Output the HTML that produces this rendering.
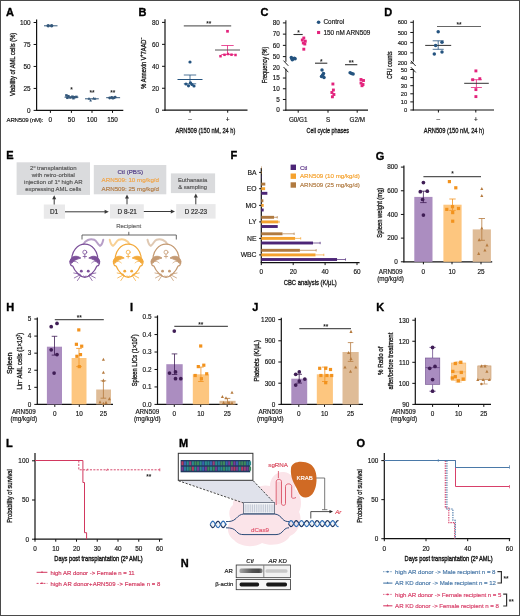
<!DOCTYPE html>
<html><head><meta charset="utf-8"><style>
html,body{margin:0;padding:0;background:#fff;}
body{width:520px;height:616px;overflow:hidden;}
svg{display:block;font-family:"Liberation Sans", sans-serif;will-change:transform;}
</style></head><body>
<svg width="520" height="616" viewBox="0 0 520 616">
<rect x="0" y="0" width="520" height="616" fill="#fff"/>
<text x="6" y="16.4" font-size="11.0" text-anchor="start" fill="#000" font-weight="bold" stroke="#000" stroke-width="0.35">A</text>
<line x1="36.6" y1="19.5" x2="36.6" y2="110.95" stroke="#111111" stroke-width="1.2" />
<line x1="33.6" y1="110.4" x2="36.6" y2="110.4" stroke="#111111" stroke-width="1.0" />
<text x="30.6" y="112.7" font-size="6.4" text-anchor="end" fill="#161616" stroke="#161616" stroke-width="0.16">0</text>
<line x1="33.6" y1="88.43" x2="36.6" y2="88.43" stroke="#111111" stroke-width="1.0" />
<text x="30.6" y="90.73" font-size="6.4" text-anchor="end" fill="#161616" stroke="#161616" stroke-width="0.16">25</text>
<line x1="33.6" y1="66.45" x2="36.6" y2="66.45" stroke="#111111" stroke-width="1.0" />
<text x="30.6" y="68.75" font-size="6.4" text-anchor="end" fill="#161616" stroke="#161616" stroke-width="0.16">50</text>
<line x1="33.6" y1="44.48" x2="36.6" y2="44.48" stroke="#111111" stroke-width="1.0" />
<text x="30.6" y="46.78" font-size="6.4" text-anchor="end" fill="#161616" stroke="#161616" stroke-width="0.16">75</text>
<line x1="33.6" y1="22.5" x2="36.6" y2="22.5" stroke="#111111" stroke-width="1.0" />
<text x="30.6" y="24.8" font-size="6.4" text-anchor="end" fill="#161616" stroke="#161616" stroke-width="0.16">100</text>
<line x1="36.05" y1="110.4" x2="123.3" y2="110.4" stroke="#111111" stroke-width="1.2" />
<line x1="50.4" y1="110.4" x2="50.4" y2="112.9" stroke="#111111" stroke-width="1.0" />
<line x1="71.4" y1="110.4" x2="71.4" y2="112.9" stroke="#111111" stroke-width="1.0" />
<line x1="92" y1="110.4" x2="92" y2="112.9" stroke="#111111" stroke-width="1.0" />
<line x1="112.5" y1="110.4" x2="112.5" y2="112.9" stroke="#111111" stroke-width="1.0" />
<text x="6.5" y="121.8" font-size="6.1" text-anchor="start" fill="#161616" stroke="#161616" stroke-width="0.16" textLength="36.8">ARN509 (nM):</text>
<text x="50.4" y="121.8" font-size="6.4" text-anchor="middle" fill="#161616" stroke="#161616" stroke-width="0.16">0</text>
<text x="71.4" y="121.8" font-size="6.4" text-anchor="middle" fill="#161616" stroke="#161616" stroke-width="0.16">50</text>
<text x="92" y="121.8" font-size="6.4" text-anchor="middle" fill="#161616" stroke="#161616" stroke-width="0.16">100</text>
<text x="112.5" y="121.8" font-size="6.4" text-anchor="middle" fill="#161616" stroke="#161616" stroke-width="0.16">150</text>
<text x="14.8" y="64.4" font-size="7.8" text-anchor="middle" fill="#161616" font-weight="normal" transform="rotate(-90 14.8 64.4)" textLength="63.3" lengthAdjust="spacingAndGlyphs" stroke="#161616" stroke-width="0.32">Viability of AML cells (%)</text>
<line x1="44" y1="25.8" x2="57.5" y2="25.8" stroke="#33577a" stroke-width="1.0" />
<circle cx="48.2" cy="25.8" r="1.75" fill="#33577a" />
<circle cx="51.6" cy="25.8" r="1.75" fill="#33577a" />
<line x1="64.5" y1="97.2" x2="78.4" y2="97.2" stroke="#33577a" stroke-width="1.0" />
<rect x="65.15" y="94.15" width="2.5" height="2.5" fill="#33577a" />
<rect x="67.15" y="94.95" width="2.5" height="2.5" fill="#33577a" />
<rect x="69.15" y="96.25" width="2.5" height="2.5" fill="#33577a" />
<rect x="71.15" y="95.45" width="2.5" height="2.5" fill="#33577a" />
<rect x="73.15" y="95.95" width="2.5" height="2.5" fill="#33577a" />
<rect x="75.15" y="95.65" width="2.5" height="2.5" fill="#33577a" />
<rect x="66.15" y="96.55" width="2.5" height="2.5" fill="#33577a" />
<rect x="72.15" y="96.95" width="2.5" height="2.5" fill="#33577a" />
<line x1="85" y1="98.8" x2="98.8" y2="98.8" stroke="#33577a" stroke-width="1.0" />
<path d="M90.6 98.69L91.95 101.42L89.25 101.42Z" fill="#33577a"/>
<path d="M89 96.98L90.35 99.72L87.65 99.72Z" fill="#33577a"/>
<path d="M93.5 96.69L94.85 99.42L92.15 99.42Z" fill="#33577a"/>
<path d="M95 97.08L96.35 99.81L93.65 99.81Z" fill="#33577a"/>
<line x1="106.2" y1="97.7" x2="120.1" y2="97.7" stroke="#33577a" stroke-width="1.0" />
<circle cx="109.7" cy="98" r="1.4" fill="#33577a" />
<circle cx="111.7" cy="97.4" r="1.4" fill="#33577a" />
<circle cx="113.7" cy="97.9" r="1.4" fill="#33577a" />
<circle cx="115.2" cy="97.2" r="1.4" fill="#33577a" />
<circle cx="112.7" cy="98.2" r="1.4" fill="#33577a" />
<text x="71.4" y="92.4" font-size="6.5" text-anchor="middle" fill="#222" font-weight="bold">*</text>
<text x="92" y="94.5" font-size="6.5" text-anchor="middle" fill="#222" font-weight="bold">**</text>
<text x="112.7" y="94.5" font-size="6.5" text-anchor="middle" fill="#222" font-weight="bold">**</text>
<text x="138.4" y="16.2" font-size="11.0" text-anchor="start" fill="#000" font-weight="bold" stroke="#000" stroke-width="0.35">B</text>
<line x1="165" y1="19.3" x2="165" y2="110.75" stroke="#111111" stroke-width="1.2" />
<line x1="162" y1="110.2" x2="165" y2="110.2" stroke="#111111" stroke-width="1.0" />
<text x="159" y="112.5" font-size="6.4" text-anchor="end" fill="#161616" stroke="#161616" stroke-width="0.16">0</text>
<line x1="162" y1="88.25" x2="165" y2="88.25" stroke="#111111" stroke-width="1.0" />
<text x="159" y="90.55" font-size="6.4" text-anchor="end" fill="#161616" stroke="#161616" stroke-width="0.16">20</text>
<line x1="162" y1="66.3" x2="165" y2="66.3" stroke="#111111" stroke-width="1.0" />
<text x="159" y="68.6" font-size="6.4" text-anchor="end" fill="#161616" stroke="#161616" stroke-width="0.16">40</text>
<line x1="162" y1="44.35" x2="165" y2="44.35" stroke="#111111" stroke-width="1.0" />
<text x="159" y="46.65" font-size="6.4" text-anchor="end" fill="#161616" stroke="#161616" stroke-width="0.16">60</text>
<line x1="162" y1="22.4" x2="165" y2="22.4" stroke="#111111" stroke-width="1.0" />
<text x="159" y="24.7" font-size="6.4" text-anchor="end" fill="#161616" stroke="#161616" stroke-width="0.16">80</text>
<line x1="164.45" y1="110.2" x2="247.5" y2="110.2" stroke="#111111" stroke-width="1.2" />
<line x1="190" y1="110.2" x2="190" y2="112.7" stroke="#111111" stroke-width="1.0" />
<line x1="227.7" y1="110.2" x2="227.7" y2="112.7" stroke="#111111" stroke-width="1.0" />
<text x="190" y="121.2" font-size="6.4" text-anchor="middle" fill="#161616" stroke="#161616" stroke-width="0.16">–</text>
<text x="227.7" y="121.7" font-size="6.4" text-anchor="middle" fill="#161616" stroke="#161616" stroke-width="0.16">+</text>
<text x="205.4" y="132.8" font-size="7.8" text-anchor="middle" fill="#161616" font-weight="normal" textLength="60" lengthAdjust="spacingAndGlyphs" stroke="#161616" stroke-width="0.32">ARN509 (150 nM, 24 h)</text>
<text x="145.6" y="63.2" font-size="7.8" text-anchor="middle" fill="#161616" font-weight="normal" transform="rotate(-90 145.6 63.2)" textLength="51" lengthAdjust="spacingAndGlyphs" stroke="#161616" stroke-width="0.32">% Annexin V<tspan dy="-2.2" font-size="4.6">+</tspan><tspan dy="2.2">7AAD</tspan><tspan dy="-2.2" font-size="4.6">–</tspan></text>
<line x1="183.8" y1="25.8" x2="231.2" y2="25.8" stroke="#666" stroke-width="1.2" />
<text x="208.7" y="26.4" font-size="6.5" text-anchor="middle" fill="#222" font-weight="bold">**</text>
<line x1="190" y1="75" x2="190" y2="83.8" stroke="#24537f" stroke-width="0.8" />
<line x1="183.8" y1="75" x2="196.2" y2="75" stroke="#24537f" stroke-width="0.8" />
<line x1="183.8" y1="83.8" x2="196.2" y2="83.8" stroke="#24537f" stroke-width="0.8" />
<line x1="177.5" y1="79.5" x2="202.5" y2="79.5" stroke="#24537f" stroke-width="1.0" />
<circle cx="190" cy="62" r="1.6" fill="#24537f" />
<circle cx="186" cy="84" r="1.6" fill="#24537f" />
<circle cx="188.5" cy="85.8" r="1.6" fill="#24537f" />
<circle cx="192" cy="84.5" r="1.6" fill="#24537f" />
<circle cx="194" cy="86" r="1.6" fill="#24537f" />
<circle cx="190.5" cy="82.8" r="1.6" fill="#24537f" />
<line x1="227.5" y1="45.5" x2="227.5" y2="54.5" stroke="#e3237c" stroke-width="0.8" />
<line x1="221.3" y1="45.5" x2="233.7" y2="45.5" stroke="#e3237c" stroke-width="0.8" />
<line x1="221.3" y1="54.5" x2="233.7" y2="54.5" stroke="#e3237c" stroke-width="0.8" />
<line x1="215" y1="50" x2="240" y2="50" stroke="#555" stroke-width="1.0" />
<rect x="226.15" y="29.95" width="2.7" height="2.7" fill="#e3237c" />
<rect x="219.25" y="54.95" width="2.5" height="2.5" fill="#e3237c" />
<rect x="223.25" y="53.55" width="2.5" height="2.5" fill="#e3237c" />
<rect x="226.75" y="52.75" width="2.5" height="2.5" fill="#e3237c" />
<rect x="230.25" y="53.45" width="2.5" height="2.5" fill="#e3237c" />
<rect x="234.25" y="53.75" width="2.5" height="2.5" fill="#e3237c" />
<text x="260.5" y="16.3" font-size="11.0" text-anchor="start" fill="#000" font-weight="bold" stroke="#000" stroke-width="0.35">C</text>
<line x1="285.9" y1="20.3" x2="285.9" y2="61.8" stroke="#111111" stroke-width="1.0" />
<line x1="285.9" y1="68.8" x2="285.9" y2="110.65" stroke="#111111" stroke-width="1.0" />
<line x1="283.5" y1="60.6" x2="288.3" y2="65.8" stroke="#111111" stroke-width="0.9" />
<line x1="283.5" y1="67" x2="288.3" y2="72.2" stroke="#111111" stroke-width="0.9" />
<line x1="282.9" y1="56.6" x2="285.9" y2="56.6" stroke="#111111" stroke-width="1.0" />
<text x="279.9" y="58.8" font-size="6.4" text-anchor="end" fill="#161616" stroke="#161616" stroke-width="0.16">50</text>
<line x1="282.9" y1="45.37" x2="285.9" y2="45.37" stroke="#111111" stroke-width="1.0" />
<text x="279.9" y="47.57" font-size="6.4" text-anchor="end" fill="#161616" stroke="#161616" stroke-width="0.16">60</text>
<line x1="282.9" y1="34.13" x2="285.9" y2="34.13" stroke="#111111" stroke-width="1.0" />
<text x="279.9" y="36.33" font-size="6.4" text-anchor="end" fill="#161616" stroke="#161616" stroke-width="0.16">70</text>
<line x1="282.9" y1="22.9" x2="285.9" y2="22.9" stroke="#111111" stroke-width="1.0" />
<text x="279.9" y="25.1" font-size="6.4" text-anchor="end" fill="#161616" stroke="#161616" stroke-width="0.16">80</text>
<line x1="282.9" y1="110.2" x2="285.9" y2="110.2" stroke="#111111" stroke-width="1.0" />
<text x="279.9" y="112.4" font-size="6.4" text-anchor="end" fill="#161616" stroke="#161616" stroke-width="0.16">0</text>
<line x1="282.9" y1="99.47" x2="285.9" y2="99.47" stroke="#111111" stroke-width="1.0" />
<text x="279.9" y="101.67" font-size="6.4" text-anchor="end" fill="#161616" stroke="#161616" stroke-width="0.16">5</text>
<line x1="282.9" y1="88.75" x2="285.9" y2="88.75" stroke="#111111" stroke-width="1.0" />
<text x="279.9" y="90.95" font-size="6.4" text-anchor="end" fill="#161616" stroke="#161616" stroke-width="0.16">10</text>
<line x1="282.9" y1="78.03" x2="285.9" y2="78.03" stroke="#111111" stroke-width="1.0" />
<text x="279.9" y="80.23" font-size="6.4" text-anchor="end" fill="#161616" stroke="#161616" stroke-width="0.16">15</text>
<text x="279.9" y="69.5" font-size="6.4" text-anchor="end" fill="#161616" stroke="#161616" stroke-width="0.16">20</text>
<line x1="285.35" y1="110.2" x2="368" y2="110.2" stroke="#111111" stroke-width="1.2" />
<line x1="298.2" y1="110.2" x2="298.2" y2="112.7" stroke="#111111" stroke-width="1.0" />
<line x1="328" y1="110.2" x2="328" y2="112.7" stroke="#111111" stroke-width="1.0" />
<line x1="357.2" y1="110.2" x2="357.2" y2="112.7" stroke="#111111" stroke-width="1.0" />
<text x="298.2" y="121.8" font-size="6.3" text-anchor="middle" fill="#161616" stroke="#161616" stroke-width="0.16">G0/G1</text>
<text x="328" y="121.8" font-size="6.3" text-anchor="middle" fill="#161616" stroke="#161616" stroke-width="0.16">S</text>
<text x="357.2" y="121.8" font-size="6.3" text-anchor="middle" fill="#161616" stroke="#161616" stroke-width="0.16">G2/M</text>
<text x="327.8" y="132.7" font-size="7.8" text-anchor="middle" fill="#161616" font-weight="normal" textLength="42.4" lengthAdjust="spacingAndGlyphs" stroke="#161616" stroke-width="0.32">Cell cycle phases</text>
<text x="266.8" y="65" font-size="7.8" text-anchor="middle" fill="#161616" font-weight="normal" transform="rotate(-90 266.8 65)" textLength="36.5" lengthAdjust="spacingAndGlyphs" stroke="#161616" stroke-width="0.32">Frequency (%)</text>
<circle cx="318.6" cy="22.2" r="1.8" fill="#24537f" />
<text x="323.5" y="24.3" font-size="6.4" text-anchor="start" fill="#161616" stroke="#161616" stroke-width="0.16">Control</text>
<rect x="317.05" y="30.95" width="3.1" height="3.1" fill="#e3237c" />
<text x="323.5" y="34.6" font-size="6.4" text-anchor="start" fill="#161616" stroke="#161616" stroke-width="0.16">150 nM ARN509</text>
<circle cx="291.3" cy="57.5" r="1.75" fill="#24537f" />
<circle cx="293.3" cy="58.8" r="1.75" fill="#24537f" />
<circle cx="292.3" cy="59.8" r="1.75" fill="#24537f" />
<circle cx="294.3" cy="58.2" r="1.75" fill="#24537f" />
<circle cx="291.8" cy="58.5" r="1.75" fill="#24537f" />
<circle cx="295.1" cy="58.8" r="1.75" fill="#24537f" />
<rect x="302.35" y="36.55" width="2.9" height="2.9" fill="#e3237c" />
<rect x="300.85" y="38.55" width="2.9" height="2.9" fill="#e3237c" />
<rect x="303.85" y="39.75" width="2.9" height="2.9" fill="#e3237c" />
<rect x="301.85" y="41.55" width="2.9" height="2.9" fill="#e3237c" />
<rect x="303.35" y="42.55" width="2.9" height="2.9" fill="#e3237c" />
<rect x="302.35" y="47.75" width="2.9" height="2.9" fill="#e3237c" />
<line x1="293.5" y1="34.5" x2="302.7" y2="34.5" stroke="#333" stroke-width="1.1" />
<text x="298.5" y="34.9" font-size="6.5" text-anchor="middle" fill="#222" font-weight="bold">*</text>
<circle cx="322" cy="70" r="1.75" fill="#24537f" />
<circle cx="323.5" cy="73.5" r="1.75" fill="#24537f" />
<circle cx="321.5" cy="76.5" r="1.75" fill="#24537f" />
<circle cx="324" cy="77.5" r="1.75" fill="#24537f" />
<circle cx="322.5" cy="75.2" r="1.75" fill="#24537f" />
<rect x="331.45" y="82.55" width="2.9" height="2.9" fill="#e3237c" />
<rect x="331.95" y="88.55" width="2.9" height="2.9" fill="#e3237c" />
<rect x="330.45" y="91.05" width="2.9" height="2.9" fill="#e3237c" />
<rect x="332.45" y="93.05" width="2.9" height="2.9" fill="#e3237c" />
<rect x="330.95" y="95.35" width="2.9" height="2.9" fill="#e3237c" />
<line x1="315" y1="63.2" x2="327.3" y2="63.2" stroke="#333" stroke-width="1.1" />
<text x="321.2" y="63.5" font-size="6.5" text-anchor="middle" fill="#222" font-weight="bold">*</text>
<circle cx="350.1" cy="72.7" r="1.75" fill="#24537f" />
<circle cx="351.6" cy="73.4" r="1.75" fill="#24537f" />
<circle cx="353.1" cy="73.9" r="1.75" fill="#24537f" />
<rect x="359.55" y="78.05" width="2.9" height="2.9" fill="#e3237c" />
<rect x="362.05" y="79.05" width="2.9" height="2.9" fill="#e3237c" />
<rect x="359.55" y="81.55" width="2.9" height="2.9" fill="#e3237c" />
<rect x="361.55" y="83.05" width="2.9" height="2.9" fill="#e3237c" />
<rect x="360.55" y="84.25" width="2.9" height="2.9" fill="#e3237c" />
<line x1="345" y1="64.7" x2="357.3" y2="64.7" stroke="#333" stroke-width="1.1" />
<text x="351.2" y="65" font-size="6.5" text-anchor="middle" fill="#222" font-weight="bold">**</text>
<text x="384.3" y="16.2" font-size="11.0" text-anchor="start" fill="#000" font-weight="bold" stroke="#000" stroke-width="0.35">D</text>
<line x1="413.3" y1="20.3" x2="413.3" y2="61.6" stroke="#111111" stroke-width="1.0" />
<line x1="413.3" y1="69.3" x2="413.3" y2="110.45" stroke="#111111" stroke-width="1.0" />
<line x1="410.9" y1="60.8" x2="415.7" y2="66" stroke="#111111" stroke-width="0.9" />
<line x1="410.9" y1="67.2" x2="415.7" y2="72.4" stroke="#111111" stroke-width="0.9" />
<line x1="410.3" y1="63" x2="413.3" y2="63" stroke="#111111" stroke-width="1.0" />
<text x="407.3" y="65.1" font-size="5.8" text-anchor="end" fill="#161616" stroke="#161616" stroke-width="0.16">200</text>
<line x1="410.3" y1="52.83" x2="413.3" y2="52.83" stroke="#111111" stroke-width="1.0" />
<text x="407.3" y="54.93" font-size="5.8" text-anchor="end" fill="#161616" stroke="#161616" stroke-width="0.16">300</text>
<line x1="410.3" y1="42.65" x2="413.3" y2="42.65" stroke="#111111" stroke-width="1.0" />
<text x="407.3" y="44.75" font-size="5.8" text-anchor="end" fill="#161616" stroke="#161616" stroke-width="0.16">400</text>
<line x1="410.3" y1="32.48" x2="413.3" y2="32.48" stroke="#111111" stroke-width="1.0" />
<text x="407.3" y="34.58" font-size="5.8" text-anchor="end" fill="#161616" stroke="#161616" stroke-width="0.16">500</text>
<line x1="410.3" y1="22.3" x2="413.3" y2="22.3" stroke="#111111" stroke-width="1.0" />
<text x="407.3" y="24.4" font-size="5.8" text-anchor="end" fill="#161616" stroke="#161616" stroke-width="0.16">600</text>
<line x1="410.3" y1="110" x2="413.3" y2="110" stroke="#111111" stroke-width="1.0" />
<text x="407.3" y="112.1" font-size="5.8" text-anchor="end" fill="#161616" stroke="#161616" stroke-width="0.16">0</text>
<line x1="410.3" y1="101.9" x2="413.3" y2="101.9" stroke="#111111" stroke-width="1.0" />
<text x="407.3" y="104" font-size="5.8" text-anchor="end" fill="#161616" stroke="#161616" stroke-width="0.16">10</text>
<line x1="410.3" y1="93.8" x2="413.3" y2="93.8" stroke="#111111" stroke-width="1.0" />
<text x="407.3" y="95.9" font-size="5.8" text-anchor="end" fill="#161616" stroke="#161616" stroke-width="0.16">20</text>
<line x1="410.3" y1="85.7" x2="413.3" y2="85.7" stroke="#111111" stroke-width="1.0" />
<text x="407.3" y="87.8" font-size="5.8" text-anchor="end" fill="#161616" stroke="#161616" stroke-width="0.16">30</text>
<line x1="410.3" y1="77.6" x2="413.3" y2="77.6" stroke="#111111" stroke-width="1.0" />
<text x="407.3" y="79.7" font-size="5.8" text-anchor="end" fill="#161616" stroke="#161616" stroke-width="0.16">40</text>
<line x1="410.3" y1="69.5" x2="413.3" y2="69.5" stroke="#111111" stroke-width="1.0" />
<text x="407.3" y="71.6" font-size="5.8" text-anchor="end" fill="#161616" stroke="#161616" stroke-width="0.16">50</text>
<line x1="412.75" y1="110" x2="494" y2="110" stroke="#111111" stroke-width="1.2" />
<line x1="438.4" y1="110" x2="438.4" y2="112.5" stroke="#111111" stroke-width="1.0" />
<line x1="475.8" y1="110" x2="475.8" y2="112.5" stroke="#111111" stroke-width="1.0" />
<text x="438.4" y="121.2" font-size="6.4" text-anchor="middle" fill="#161616" stroke="#161616" stroke-width="0.16">–</text>
<text x="475.8" y="121.7" font-size="6.4" text-anchor="middle" fill="#161616" stroke="#161616" stroke-width="0.16">+</text>
<text x="454" y="132.5" font-size="7.8" text-anchor="middle" fill="#161616" font-weight="normal" textLength="60.3" lengthAdjust="spacingAndGlyphs" stroke="#161616" stroke-width="0.32">ARN509 (150 nM, 24 h)</text>
<text x="391.6" y="65.3" font-size="7.8" text-anchor="middle" fill="#161616" font-weight="normal" transform="rotate(-90 391.6 65.3)" textLength="27.6" lengthAdjust="spacingAndGlyphs" stroke="#161616" stroke-width="0.32">CFU counts</text>
<line x1="437" y1="26.5" x2="481" y2="26.5" stroke="#666" stroke-width="1.2" />
<text x="459" y="27.4" font-size="6.5" text-anchor="middle" fill="#222" font-weight="bold">**</text>
<line x1="438.2" y1="40.8" x2="438.2" y2="49.3" stroke="#24537f" stroke-width="0.8" />
<line x1="432.7" y1="40.8" x2="443.7" y2="40.8" stroke="#24537f" stroke-width="0.8" />
<line x1="432.7" y1="49.3" x2="443.7" y2="49.3" stroke="#24537f" stroke-width="0.8" />
<line x1="425.2" y1="45.4" x2="451.2" y2="45.4" stroke="#333" stroke-width="1.0" />
<circle cx="438.2" cy="31.7" r="1.75" fill="#24537f" />
<circle cx="435.6" cy="45.4" r="1.75" fill="#24537f" />
<circle cx="442" cy="42.3" r="1.75" fill="#24537f" />
<circle cx="434.3" cy="54" r="1.75" fill="#24537f" />
<circle cx="442" cy="51.9" r="1.75" fill="#24537f" />
<line x1="476.4" y1="79.7" x2="476.4" y2="87.5" stroke="#e3237c" stroke-width="0.8" />
<line x1="470.9" y1="79.7" x2="481.9" y2="79.7" stroke="#e3237c" stroke-width="0.8" />
<line x1="470.9" y1="87.5" x2="481.9" y2="87.5" stroke="#e3237c" stroke-width="0.8" />
<line x1="464.2" y1="83.3" x2="488.8" y2="83.3" stroke="#333" stroke-width="1.0" />
<rect x="474.45" y="69.45" width="2.9" height="2.9" fill="#e3237c" />
<rect x="471.25" y="78.25" width="2.9" height="2.9" fill="#e3237c" />
<rect x="478.35" y="77.25" width="2.9" height="2.9" fill="#e3237c" />
<rect x="474.45" y="88.15" width="2.9" height="2.9" fill="#e3237c" />
<rect x="474.45" y="95.15" width="2.9" height="2.9" fill="#e3237c" />
<text x="6.2" y="158.7" font-size="11.0" text-anchor="start" fill="#000" font-weight="bold" stroke="#000" stroke-width="0.35">E</text>
<rect x="16.6" y="162.3" width="73.4" height="32.6" fill="#dadbdd" />
<text x="53.3" y="169.6" font-size="6.0" text-anchor="middle" fill="#555" stroke="#555" stroke-width="0.16">2<tspan dy="-1.8" font-size="3.6">o</tspan><tspan dy="1.8"> transplantation</tspan></text>
<text x="53.3" y="177.2" font-size="6.0" text-anchor="middle" fill="#555" stroke="#555" stroke-width="0.16">with retro-orbital</text>
<text x="53.3" y="183.8" font-size="6.0" text-anchor="middle" fill="#555" stroke="#555" stroke-width="0.16">injection of 1<tspan dy="-1.8" font-size="3.6">o</tspan><tspan dy="1.8"> high AR</tspan></text>
<text x="53.3" y="191.3" font-size="6.0" text-anchor="middle" fill="#555" stroke="#555" stroke-width="0.16">expressing AML cells</text>
<rect x="93.8" y="165" width="72.5" height="29.3" fill="#dadbdd" />
<text x="130.3" y="173.8" font-size="6.2" text-anchor="middle" fill="#4f3a86" stroke="#4f3a86" stroke-width="0.16">Ctl (PBS)</text>
<text x="130.3" y="182.2" font-size="6.2" text-anchor="middle" fill="#f2a445" stroke="#f2a445" stroke-width="0.16">ARN509: 10 mg/kg/d</text>
<text x="130.3" y="190.8" font-size="6.2" text-anchor="middle" fill="#b27a42" stroke="#b27a42" stroke-width="0.16">ARN509: 25 mg/kg/d</text>
<rect x="170.9" y="173.4" width="44.2" height="19.7" fill="#dadbdd" />
<text x="192.6" y="182" font-size="5.85" text-anchor="middle" fill="#555" stroke="#555" stroke-width="0.16">Euthanasia</text>
<text x="192.6" y="188.6" font-size="5.85" text-anchor="middle" fill="#555" stroke="#555" stroke-width="0.16">&amp; sampling</text>
<rect x="43.8" y="204.5" width="21.2" height="14.2" fill="#e9e9ea" />
<rect x="110" y="204.3" width="33.8" height="14.2" fill="#e9e9ea" />
<rect x="176.2" y="204.1" width="39.4" height="14.5" fill="#e9e9ea" />
<text x="54.1" y="213.8" font-size="6.4" text-anchor="middle" fill="#2a2a2a" stroke="#2a2a2a" stroke-width="0.18">D1</text>
<text x="127.2" y="213.8" font-size="6.4" text-anchor="middle" fill="#2a2a2a" stroke="#2a2a2a" stroke-width="0.18">D 8-21</text>
<text x="195.9" y="213.8" font-size="6.3" text-anchor="middle" fill="#2a2a2a" stroke="#2a2a2a" stroke-width="0.18">D 22-23</text>
<line x1="54.2" y1="204.5" x2="54.2" y2="198.3" stroke="#3a3a3a" stroke-width="1.0" />
<path d="M52.2 199.3L54.2 195.3L56.2 199.3Z" fill="#3a3a3a"/>
<line x1="127" y1="204.3" x2="127" y2="197.6" stroke="#3a3a3a" stroke-width="1.0" />
<path d="M125 198.6L127 194.6L129 198.6Z" fill="#3a3a3a"/>
<line x1="195.8" y1="204.3" x2="195.8" y2="196.4" stroke="#3a3a3a" stroke-width="1.0" />
<path d="M193.8 197.4L195.8 193.4L197.8 197.4Z" fill="#3a3a3a"/>
<line x1="65" y1="211.8" x2="105.8" y2="211.8" stroke="#3a3a3a" stroke-width="1.0" />
<path d="M104.6 209.8L108.8 211.8L104.6 213.8Z" fill="#3a3a3a"/>
<line x1="143.8" y1="211.5" x2="172" y2="211.5" stroke="#3a3a3a" stroke-width="1.0" />
<path d="M170.8 209.5L175 211.5L170.8 213.5Z" fill="#3a3a3a"/>
<text x="128.7" y="227.5" font-size="6.0" text-anchor="middle" fill="#666" stroke="#666" stroke-width="0.16">Recipient</text>
<path d="M82 239.5 V235 H176.3 V239.5 M128.8 235 V231.8" fill="none" stroke="#555" stroke-width="0.9"/>
<g transform="translate(84.8 260.8) scale(1.05)" fill="none" stroke="#7b4f99" stroke-width="1.15" stroke-linecap="round" stroke-linejoin="round"><g transform="scale(1 1)"><path d="M-1.5 -15.6 C0.5 -19.5 5 -21.5 9 -20 C11.5 -19 12 -15.5 14.5 -14.2 C16.3 -14.8 17 -17.5 17.6 -20" stroke-width="1.9" stroke-opacity="0.55"/></g><path d="M-12.3 -1 C-12.8 -9 -7 -15.8 0 -15.8 C7 -15.8 12.8 -9 12.3 -1 C14.8 1 14.5 4.5 11.5 5 C9.5 10.5 4 15.5 0 15.8 C-4 15.5 -9.5 10.5 -11.5 5 C-14.5 4.5 -14.8 1 -12.3 -1 Z" fill="#fff"/><path d="M-14.4 1 C-13.5 -5 -7.5 -5.6 -3.8 -2.6 C-7.5 -1.6 -10.5 -0.4 -12.6 2.4 Z M14.4 1 C13.5 -5 7.5 -5.6 3.8 -2.6 C7.5 -1.6 10.5 -0.4 12.6 2.4 Z" fill="#7b4f99" stroke-width="0.8"/><path d="M-12.6 1.3 C-10.5 0 -8 0.3 -6.5 2 M12.6 1.3 C10.5 0 8 0.3 6.5 2" stroke-width="0.6"/><circle cx="0" cy="-8.2" r="1.9" stroke-width="0.75"/><path d="M0 -6.3 V-2.6 M-1.6 -4.1 H1.6" stroke-width="0.75"/><circle cx="-3.3" cy="9.9" r="1.35" fill="#7b4f99" stroke="none"/><circle cx="3.3" cy="9.9" r="1.35" fill="#7b4f99" stroke="none"/><path d="M-1.2 14.6 Q0 15.8 1.2 14.6" stroke-width="0.7"/><path d="M-4.5 12.8 L-10.5 11.6 M-4.5 13.4 L-10 16.3 M-3.8 14 L-7 18.8 M4.5 12.8 L10.5 11.6 M4.5 13.4 L10 16.3 M3.8 14 L7 18.8" stroke-width="0.75"/></g>
<g transform="translate(128.2 260.8) scale(1.05)" fill="none" stroke="#f3a93a" stroke-width="1.15" stroke-linecap="round" stroke-linejoin="round"><g transform="scale(-1 1)"><path d="M-1.5 -15.6 C0.5 -19.5 5 -21.5 9 -20 C11.5 -19 12 -15.5 14.5 -14.2 C16.3 -14.8 17 -17.5 17.6 -20" stroke-width="1.9" stroke-opacity="0.55"/></g><path d="M-12.3 -1 C-12.8 -9 -7 -15.8 0 -15.8 C7 -15.8 12.8 -9 12.3 -1 C14.8 1 14.5 4.5 11.5 5 C9.5 10.5 4 15.5 0 15.8 C-4 15.5 -9.5 10.5 -11.5 5 C-14.5 4.5 -14.8 1 -12.3 -1 Z" fill="#fff"/><path d="M-14.4 1 C-13.5 -5 -7.5 -5.6 -3.8 -2.6 C-7.5 -1.6 -10.5 -0.4 -12.6 2.4 Z M14.4 1 C13.5 -5 7.5 -5.6 3.8 -2.6 C7.5 -1.6 10.5 -0.4 12.6 2.4 Z" fill="#f3a93a" stroke-width="0.8"/><path d="M-12.6 1.3 C-10.5 0 -8 0.3 -6.5 2 M12.6 1.3 C10.5 0 8 0.3 6.5 2" stroke-width="0.6"/><circle cx="0" cy="-8.2" r="1.9" stroke-width="0.75"/><path d="M0 -6.3 V-2.6 M-1.6 -4.1 H1.6" stroke-width="0.75"/><circle cx="-3.3" cy="9.9" r="1.35" fill="#f3a93a" stroke="none"/><circle cx="3.3" cy="9.9" r="1.35" fill="#f3a93a" stroke="none"/><path d="M-1.2 14.6 Q0 15.8 1.2 14.6" stroke-width="0.7"/><path d="M-4.5 12.8 L-10.5 11.6 M-4.5 13.4 L-10 16.3 M-3.8 14 L-7 18.8 M4.5 12.8 L10.5 11.6 M4.5 13.4 L10 16.3 M3.8 14 L7 18.8" stroke-width="0.75"/></g>
<g transform="translate(166 260.8) scale(1.05)" fill="none" stroke="#c49a73" stroke-width="1.15" stroke-linecap="round" stroke-linejoin="round"><g transform="scale(-1 1)"><path d="M-1.5 -15.6 C0.5 -19.5 5 -21.5 9 -20 C11.5 -19 12 -15.5 14.5 -14.2 C16.3 -14.8 17 -17.5 17.6 -20" stroke-width="1.9" stroke-opacity="0.55"/></g><path d="M-12.3 -1 C-12.8 -9 -7 -15.8 0 -15.8 C7 -15.8 12.8 -9 12.3 -1 C14.8 1 14.5 4.5 11.5 5 C9.5 10.5 4 15.5 0 15.8 C-4 15.5 -9.5 10.5 -11.5 5 C-14.5 4.5 -14.8 1 -12.3 -1 Z" fill="#fff"/><path d="M-14.4 1 C-13.5 -5 -7.5 -5.6 -3.8 -2.6 C-7.5 -1.6 -10.5 -0.4 -12.6 2.4 Z M14.4 1 C13.5 -5 7.5 -5.6 3.8 -2.6 C7.5 -1.6 10.5 -0.4 12.6 2.4 Z" fill="#c49a73" stroke-width="0.8"/><path d="M-12.6 1.3 C-10.5 0 -8 0.3 -6.5 2 M12.6 1.3 C10.5 0 8 0.3 6.5 2" stroke-width="0.6"/><circle cx="0" cy="-8.2" r="1.9" stroke-width="0.75"/><path d="M0 -6.3 V-2.6 M-1.6 -4.1 H1.6" stroke-width="0.75"/><circle cx="-3.3" cy="9.9" r="1.35" fill="#c49a73" stroke="none"/><circle cx="3.3" cy="9.9" r="1.35" fill="#c49a73" stroke="none"/><path d="M-1.2 14.6 Q0 15.8 1.2 14.6" stroke-width="0.7"/><path d="M-4.5 12.8 L-10.5 11.6 M-4.5 13.4 L-10 16.3 M-3.8 14 L-7 18.8 M4.5 12.8 L10.5 11.6 M4.5 13.4 L10 16.3 M3.8 14 L7 18.8" stroke-width="0.75"/></g>
<text x="230.4" y="158.7" font-size="11.0" text-anchor="start" fill="#000" font-weight="bold" stroke="#000" stroke-width="0.35">F</text>
<line x1="261.3" y1="168" x2="261.3" y2="263.1" stroke="#111111" stroke-width="1.2" />
<line x1="260.75" y1="262.6" x2="359.6" y2="262.6" stroke="#111111" stroke-width="1.2" />
<line x1="261.3" y1="262.6" x2="261.3" y2="265.1" stroke="#111111" stroke-width="1.0" />
<line x1="293.2" y1="262.6" x2="293.2" y2="265.1" stroke="#111111" stroke-width="1.0" />
<line x1="325.1" y1="262.6" x2="325.1" y2="265.1" stroke="#111111" stroke-width="1.0" />
<line x1="357" y1="262.6" x2="357" y2="265.1" stroke="#111111" stroke-width="1.0" />
<text x="261.3" y="274.1" font-size="6.4" text-anchor="middle" fill="#161616" stroke="#161616" stroke-width="0.16">0</text>
<text x="293.2" y="274.1" font-size="6.4" text-anchor="middle" fill="#161616" stroke="#161616" stroke-width="0.16">20</text>
<text x="325.1" y="274.1" font-size="6.4" text-anchor="middle" fill="#161616" stroke="#161616" stroke-width="0.16">40</text>
<text x="357" y="274.1" font-size="6.4" text-anchor="middle" fill="#161616" stroke="#161616" stroke-width="0.16">60</text>
<text x="310.2" y="285" font-size="7.8" text-anchor="middle" fill="#161616" font-weight="normal" textLength="53" lengthAdjust="spacingAndGlyphs" stroke="#161616" stroke-width="0.32">CBC analysis (K/μL)</text>
<text x="256.5" y="174.8" font-size="6.8" text-anchor="end" fill="#161616" stroke="#161616" stroke-width="0.16">BA</text>
<line x1="259.1" y1="172.4" x2="261.3" y2="172.4" stroke="#111111" stroke-width="1.0" />
<text x="256.5" y="191.1" font-size="6.8" text-anchor="end" fill="#161616" stroke="#161616" stroke-width="0.16">EO</text>
<line x1="259.1" y1="188.7" x2="261.3" y2="188.7" stroke="#111111" stroke-width="1.0" />
<text x="256.5" y="207.8" font-size="6.8" text-anchor="end" fill="#161616" stroke="#161616" stroke-width="0.16">MO</text>
<line x1="259.1" y1="205.4" x2="261.3" y2="205.4" stroke="#111111" stroke-width="1.0" />
<text x="256.5" y="224.3" font-size="6.8" text-anchor="end" fill="#161616" stroke="#161616" stroke-width="0.16">LY</text>
<line x1="259.1" y1="221.9" x2="261.3" y2="221.9" stroke="#111111" stroke-width="1.0" />
<text x="256.5" y="240.8" font-size="6.8" text-anchor="end" fill="#161616" stroke="#161616" stroke-width="0.16">NE</text>
<line x1="259.1" y1="238.4" x2="261.3" y2="238.4" stroke="#111111" stroke-width="1.0" />
<text x="256.5" y="257.3" font-size="6.8" text-anchor="end" fill="#161616" stroke="#161616" stroke-width="0.16">WBC</text>
<line x1="259.1" y1="254.9" x2="261.3" y2="254.9" stroke="#111111" stroke-width="1.0" />
<rect x="261.3" y="166.35" width="0.48" height="2.9" fill="#b07a40" />
<rect x="261.3" y="170.95" width="0.32" height="2.9" fill="#f5a22e" />
<rect x="261.3" y="175.55" width="0.48" height="2.9" fill="#4c2577" />
<rect x="261.3" y="182.65" width="3.99" height="2.9" fill="#b07a40" />
<rect x="261.3" y="187.25" width="3.83" height="2.9" fill="#f5a22e" />
<rect x="261.3" y="191.85" width="6.06" height="2.9" fill="#4c2577" />
<rect x="261.3" y="199.35" width="2.07" height="2.9" fill="#b07a40" />
<rect x="261.3" y="203.95" width="2.39" height="2.9" fill="#f5a22e" />
<rect x="261.3" y="208.55" width="2.39" height="2.9" fill="#4c2577" />
<rect x="261.3" y="215.85" width="12.76" height="2.9" fill="#b07a40" />
<line x1="274.06" y1="217.3" x2="277.25" y2="217.3" stroke="#b07a40" stroke-width="0.7" />
<line x1="277.25" y1="216.1" x2="277.25" y2="218.5" stroke="#b07a40" stroke-width="0.7" />
<rect x="261.3" y="220.45" width="16.91" height="2.9" fill="#f5a22e" />
<line x1="278.21" y1="221.9" x2="279.16" y2="221.9" stroke="#f5a22e" stroke-width="0.7" />
<line x1="279.16" y1="220.7" x2="279.16" y2="223.1" stroke="#f5a22e" stroke-width="0.7" />
<rect x="261.3" y="225.05" width="16.43" height="2.9" fill="#4c2577" />
<rect x="261.3" y="232.35" width="21.21" height="2.9" fill="#b07a40" />
<line x1="282.51" y1="233.8" x2="294.16" y2="233.8" stroke="#b07a40" stroke-width="0.7" />
<line x1="294.16" y1="232.6" x2="294.16" y2="235" stroke="#b07a40" stroke-width="0.7" />
<rect x="261.3" y="236.95" width="33.81" height="2.9" fill="#f5a22e" />
<line x1="295.11" y1="238.4" x2="300.7" y2="238.4" stroke="#f5a22e" stroke-width="0.7" />
<line x1="300.7" y1="237.2" x2="300.7" y2="239.6" stroke="#f5a22e" stroke-width="0.7" />
<rect x="261.3" y="241.55" width="51.68" height="2.9" fill="#4c2577" />
<line x1="312.98" y1="243" x2="320.16" y2="243" stroke="#4c2577" stroke-width="0.7" />
<line x1="320.16" y1="241.8" x2="320.16" y2="244.2" stroke="#4c2577" stroke-width="0.7" />
<rect x="261.3" y="248.85" width="38.6" height="2.9" fill="#b07a40" />
<line x1="299.9" y1="250.3" x2="316.17" y2="250.3" stroke="#b07a40" stroke-width="0.7" />
<line x1="316.17" y1="249.1" x2="316.17" y2="251.5" stroke="#b07a40" stroke-width="0.7" />
<rect x="261.3" y="253.45" width="54.23" height="2.9" fill="#f5a22e" />
<line x1="315.53" y1="254.9" x2="323.82" y2="254.9" stroke="#f5a22e" stroke-width="0.7" />
<line x1="323.82" y1="253.7" x2="323.82" y2="256.1" stroke="#f5a22e" stroke-width="0.7" />
<rect x="261.3" y="258.05" width="75.76" height="2.9" fill="#4c2577" />
<line x1="337.06" y1="259.5" x2="345.52" y2="259.5" stroke="#4c2577" stroke-width="0.7" />
<line x1="345.52" y1="258.3" x2="345.52" y2="260.7" stroke="#4c2577" stroke-width="0.7" />
<rect x="290.6" y="164.6" width="5.4" height="5.4" fill="#4c2577" />
<text x="299.9" y="169.5" font-size="6.2" text-anchor="start" fill="#5a2f85" stroke="#5a2f85" stroke-width="0.16">Ctl</text>
<rect x="290.6" y="173.5" width="5.4" height="5.4" fill="#f5a22e" />
<text x="299.9" y="178.4" font-size="6.2" text-anchor="start" fill="#f5a22e" stroke="#f5a22e" stroke-width="0.16">ARN509 (10 mg/kg/d)</text>
<rect x="290.6" y="182.3" width="5.4" height="5.4" fill="#b07a40" />
<text x="299.9" y="187.2" font-size="6.2" text-anchor="start" fill="#b07a40" stroke="#b07a40" stroke-width="0.16">ARN509 (25 mg/kg/d)</text>
<text x="375.8" y="159.7" font-size="11.0" text-anchor="start" fill="#000" font-weight="bold" stroke="#000" stroke-width="0.35">G</text>
<line x1="403.9" y1="165.5" x2="403.9" y2="262.35" stroke="#111111" stroke-width="1.2" />
<line x1="400.9" y1="261.8" x2="403.9" y2="261.8" stroke="#111111" stroke-width="1.0" />
<text x="397.9" y="264.1" font-size="6.4" text-anchor="end" fill="#161616" stroke="#161616" stroke-width="0.16">0</text>
<line x1="400.9" y1="238.12" x2="403.9" y2="238.12" stroke="#111111" stroke-width="1.0" />
<text x="397.9" y="240.43" font-size="6.4" text-anchor="end" fill="#161616" stroke="#161616" stroke-width="0.16">200</text>
<line x1="400.9" y1="214.45" x2="403.9" y2="214.45" stroke="#111111" stroke-width="1.0" />
<text x="397.9" y="216.75" font-size="6.4" text-anchor="end" fill="#161616" stroke="#161616" stroke-width="0.16">400</text>
<line x1="400.9" y1="190.78" x2="403.9" y2="190.78" stroke="#111111" stroke-width="1.0" />
<text x="397.9" y="193.08" font-size="6.4" text-anchor="end" fill="#161616" stroke="#161616" stroke-width="0.16">600</text>
<line x1="400.9" y1="167.1" x2="403.9" y2="167.1" stroke="#111111" stroke-width="1.0" />
<text x="397.9" y="169.4" font-size="6.4" text-anchor="end" fill="#161616" stroke="#161616" stroke-width="0.16">800</text>
<line x1="403.35" y1="261.8" x2="492.2" y2="261.8" stroke="#111111" stroke-width="1.2" />
<line x1="423.4" y1="261.8" x2="423.4" y2="264.3" stroke="#111111" stroke-width="1.0" />
<line x1="452" y1="261.8" x2="452" y2="264.3" stroke="#111111" stroke-width="1.0" />
<line x1="481" y1="261.8" x2="481" y2="264.3" stroke="#111111" stroke-width="1.0" />
<text x="423.4" y="274.2" font-size="6.4" text-anchor="middle" fill="#161616" stroke="#161616" stroke-width="0.16">0</text>
<text x="452" y="274.2" font-size="6.4" text-anchor="middle" fill="#161616" stroke="#161616" stroke-width="0.16">10</text>
<text x="481" y="274.2" font-size="6.4" text-anchor="middle" fill="#161616" stroke="#161616" stroke-width="0.16">25</text>
<text x="402.5" y="273.8" font-size="6.3" text-anchor="end" fill="#161616" stroke="#161616" stroke-width="0.16">ARN509</text>
<text x="403.8" y="281.2" font-size="6.3" text-anchor="end" fill="#161616" stroke="#161616" stroke-width="0.16">(mg/kg/d)</text>
<text x="382" y="212.7" font-size="7.8" text-anchor="middle" fill="#161616" font-weight="normal" transform="rotate(-90 382 212.7)" textLength="50" lengthAdjust="spacingAndGlyphs" stroke="#161616" stroke-width="0.32">Spleen weight (mg)</text>
<rect x="414.3" y="196.9" width="18.2" height="64.9" fill="#ab8dc0" />
<rect x="443.4" y="204.7" width="18.2" height="57.1" fill="#fdc67f" />
<rect x="472.7" y="229.4" width="18.2" height="32.4" fill="#dfbc97" />
<line x1="423.4" y1="191.2" x2="423.4" y2="202.6" stroke="#3f1d55" stroke-width="0.8" />
<line x1="420.2" y1="191.2" x2="426.6" y2="191.2" stroke="#3f1d55" stroke-width="0.8" />
<line x1="420.2" y1="202.6" x2="426.6" y2="202.6" stroke="#3f1d55" stroke-width="0.8" />
<line x1="452.5" y1="199" x2="452.5" y2="210.4" stroke="#f2921d" stroke-width="0.8" />
<line x1="449.3" y1="199" x2="455.7" y2="199" stroke="#f2921d" stroke-width="0.8" />
<line x1="449.3" y1="210.4" x2="455.7" y2="210.4" stroke="#f2921d" stroke-width="0.8" />
<line x1="481.8" y1="218.5" x2="481.8" y2="240.3" stroke="#b57a3e" stroke-width="0.8" />
<line x1="478.6" y1="218.5" x2="485" y2="218.5" stroke="#b57a3e" stroke-width="0.8" />
<line x1="478.6" y1="240.3" x2="485" y2="240.3" stroke="#b57a3e" stroke-width="0.8" />
<circle cx="423.4" cy="182.6" r="1.85" fill="#3f1d55" />
<circle cx="420.3" cy="191.7" r="1.85" fill="#3f1d55" />
<circle cx="427.3" cy="191.2" r="1.85" fill="#3f1d55" />
<circle cx="422.6" cy="199.5" r="1.85" fill="#3f1d55" />
<circle cx="423.4" cy="215.1" r="1.85" fill="#3f1d55" />
<rect x="447.8" y="180" width="3.2" height="3.2" fill="#f2921d" />
<rect x="454.2" y="186.2" width="3.2" height="3.2" fill="#f2921d" />
<rect x="445.2" y="207.8" width="3.2" height="3.2" fill="#f2921d" />
<rect x="450.9" y="205.1" width="3.2" height="3.2" fill="#f2921d" />
<rect x="456.9" y="206.9" width="3.2" height="3.2" fill="#f2921d" />
<rect x="451.1" y="211" width="3.2" height="3.2" fill="#f2921d" />
<rect x="451.1" y="219.6" width="3.2" height="3.2" fill="#f2921d" />
<path d="M481.8 186.9L483.35 190L480.25 190Z" fill="#b57a3e"/>
<path d="M481.8 193.9L483.35 197L480.25 197Z" fill="#b57a3e"/>
<path d="M481.8 226.4L483.35 229.5L480.25 229.5Z" fill="#b57a3e"/>
<path d="M479.2 238.1L480.75 241.2L477.65 241.2Z" fill="#b57a3e"/>
<path d="M487 243.3L488.55 246.4L485.45 246.4Z" fill="#b57a3e"/>
<path d="M484.9 248.4L486.45 251.5L483.35 251.5Z" fill="#b57a3e"/>
<path d="M478.7 251.8L480.25 254.9L477.15 254.9Z" fill="#b57a3e"/>
<line x1="423.4" y1="176.7" x2="481" y2="176.7" stroke="#555" stroke-width="1.25" />
<text x="452.5" y="176.4" font-size="6.5" text-anchor="middle" fill="#222" font-weight="bold">*</text>
<text x="6.2" y="311" font-size="11.0" text-anchor="start" fill="#000" font-weight="bold" stroke="#000" stroke-width="0.35">H</text>
<line x1="37.3" y1="317.5" x2="37.3" y2="404.95" stroke="#111111" stroke-width="1.2" />
<line x1="34.3" y1="404.4" x2="37.3" y2="404.4" stroke="#111111" stroke-width="1.0" />
<text x="31.3" y="406.7" font-size="6.4" text-anchor="end" fill="#161616" stroke="#161616" stroke-width="0.16">0</text>
<line x1="34.3" y1="387.32" x2="37.3" y2="387.32" stroke="#111111" stroke-width="1.0" />
<text x="31.3" y="389.62" font-size="6.4" text-anchor="end" fill="#161616" stroke="#161616" stroke-width="0.16">1</text>
<line x1="34.3" y1="370.24" x2="37.3" y2="370.24" stroke="#111111" stroke-width="1.0" />
<text x="31.3" y="372.54" font-size="6.4" text-anchor="end" fill="#161616" stroke="#161616" stroke-width="0.16">2</text>
<line x1="34.3" y1="353.16" x2="37.3" y2="353.16" stroke="#111111" stroke-width="1.0" />
<text x="31.3" y="355.46" font-size="6.4" text-anchor="end" fill="#161616" stroke="#161616" stroke-width="0.16">3</text>
<line x1="34.3" y1="336.08" x2="37.3" y2="336.08" stroke="#111111" stroke-width="1.0" />
<text x="31.3" y="338.38" font-size="6.4" text-anchor="end" fill="#161616" stroke="#161616" stroke-width="0.16">4</text>
<line x1="34.3" y1="319" x2="37.3" y2="319" stroke="#111111" stroke-width="1.0" />
<text x="31.3" y="321.3" font-size="6.4" text-anchor="end" fill="#161616" stroke="#161616" stroke-width="0.16">5</text>
<line x1="36.75" y1="404.4" x2="113" y2="404.4" stroke="#111111" stroke-width="1.2" />
<line x1="54.8" y1="404.4" x2="54.8" y2="406.9" stroke="#111111" stroke-width="1.0" />
<line x1="79.3" y1="404.4" x2="79.3" y2="406.9" stroke="#111111" stroke-width="1.0" />
<line x1="103.4" y1="404.4" x2="103.4" y2="406.9" stroke="#111111" stroke-width="1.0" />
<text x="54.8" y="415.8" font-size="6.4" text-anchor="middle" fill="#161616" stroke="#161616" stroke-width="0.16">0</text>
<text x="79.3" y="415.8" font-size="6.4" text-anchor="middle" fill="#161616" stroke="#161616" stroke-width="0.16">10</text>
<text x="103.4" y="415.8" font-size="6.4" text-anchor="middle" fill="#161616" stroke="#161616" stroke-width="0.16">25</text>
<text x="35.7" y="414" font-size="6.3" text-anchor="end" fill="#161616" stroke="#161616" stroke-width="0.16">ARN509</text>
<text x="37" y="421.2" font-size="6.3" text-anchor="end" fill="#161616" stroke="#161616" stroke-width="0.16">(mg/kg/d)</text>
<text x="11.6" y="363.3" font-size="6.6" text-anchor="middle" fill="#161616" font-weight="normal" transform="rotate(-90 11.6 363.3)" textLength="21.6" lengthAdjust="spacingAndGlyphs" stroke="#161616" stroke-width="0.32">Spleen</text>
<text x="22.5" y="361.1" font-size="7.8" text-anchor="middle" fill="#161616" font-weight="normal" transform="rotate(-90 22.5 361.1)" textLength="56.8" lengthAdjust="spacingAndGlyphs" stroke="#161616" stroke-width="0.32">Lin<tspan dy="-2.2" font-size="4.6">–</tspan><tspan dy="2.2"> AML cells (1×10</tspan><tspan dy="-2.2" font-size="4.6">7</tspan><tspan dy="2.2">)</tspan></text>
<rect x="46.9" y="346.7" width="15.1" height="57.7" fill="#ab8dc0" />
<rect x="71.6" y="358" width="14.9" height="46.4" fill="#fdc67f" />
<rect x="96.2" y="389.5" width="14.8" height="14.9" fill="#dfbc97" />
<line x1="54.5" y1="336.3" x2="54.5" y2="355.1" stroke="#3f1d55" stroke-width="0.8" />
<line x1="51.7" y1="336.3" x2="57.3" y2="336.3" stroke="#3f1d55" stroke-width="0.8" />
<line x1="51.7" y1="355.1" x2="57.3" y2="355.1" stroke="#3f1d55" stroke-width="0.8" />
<line x1="79" y1="348.4" x2="79" y2="366.6" stroke="#f2921d" stroke-width="0.8" />
<line x1="76.2" y1="348.4" x2="81.8" y2="348.4" stroke="#f2921d" stroke-width="0.8" />
<line x1="76.2" y1="366.6" x2="81.8" y2="366.6" stroke="#f2921d" stroke-width="0.8" />
<line x1="103.4" y1="380.8" x2="103.4" y2="398.2" stroke="#b57a3e" stroke-width="0.8" />
<line x1="100.6" y1="380.8" x2="106.2" y2="380.8" stroke="#b57a3e" stroke-width="0.8" />
<line x1="100.6" y1="398.2" x2="106.2" y2="398.2" stroke="#b57a3e" stroke-width="0.8" />
<circle cx="51.2" cy="326.7" r="1.85" fill="#3f1d55" />
<circle cx="57" cy="323.4" r="1.85" fill="#3f1d55" />
<circle cx="51.2" cy="349.8" r="1.85" fill="#3f1d55" />
<circle cx="57" cy="354.6" r="1.85" fill="#3f1d55" />
<circle cx="54.1" cy="373.1" r="1.85" fill="#3f1d55" />
<rect x="77.2" y="328.3" width="3.2" height="3.2" fill="#f2921d" />
<rect x="74.8" y="342.7" width="3.2" height="3.2" fill="#f2921d" />
<rect x="80.1" y="344.6" width="3.2" height="3.2" fill="#f2921d" />
<rect x="78.9" y="353" width="3.2" height="3.2" fill="#f2921d" />
<rect x="75.3" y="354.7" width="3.2" height="3.2" fill="#f2921d" />
<rect x="77.7" y="365" width="3.2" height="3.2" fill="#f2921d" />
<path d="M103.4 357.7L104.95 360.79L101.85 360.79Z" fill="#b57a3e"/>
<path d="M103.4 370.7L104.95 373.79L101.85 373.79Z" fill="#b57a3e"/>
<path d="M103.4 378.61L104.95 381.69L101.85 381.69Z" fill="#b57a3e"/>
<path d="M109.4 397.11L110.95 400.19L107.85 400.19Z" fill="#b57a3e"/>
<path d="M103.4 401.7L104.95 404.79L101.85 404.79Z" fill="#b57a3e"/>
<path d="M100 400.31L101.55 403.39L98.45 403.39Z" fill="#b57a3e"/>
<path d="M106 400.81L107.55 403.89L104.45 403.89Z" fill="#b57a3e"/>
<line x1="54.8" y1="319.5" x2="103.8" y2="319.5" stroke="#555" stroke-width="1.25" />
<text x="79.3" y="320" font-size="6.5" text-anchor="middle" fill="#222" font-weight="bold">**</text>
<text x="130" y="311" font-size="11.0" text-anchor="start" fill="#000" font-weight="bold" stroke="#000" stroke-width="0.35">I</text>
<line x1="157.5" y1="315.4" x2="157.5" y2="404.95" stroke="#111111" stroke-width="1.2" />
<line x1="154.5" y1="404.4" x2="157.5" y2="404.4" stroke="#111111" stroke-width="1.0" />
<text x="151.5" y="406.7" font-size="6.4" text-anchor="end" fill="#161616" stroke="#161616" stroke-width="0.16">0.0</text>
<line x1="154.5" y1="386.94" x2="157.5" y2="386.94" stroke="#111111" stroke-width="1.0" />
<text x="151.5" y="389.24" font-size="6.4" text-anchor="end" fill="#161616" stroke="#161616" stroke-width="0.16">0.1</text>
<line x1="154.5" y1="369.48" x2="157.5" y2="369.48" stroke="#111111" stroke-width="1.0" />
<text x="151.5" y="371.78" font-size="6.4" text-anchor="end" fill="#161616" stroke="#161616" stroke-width="0.16">0.2</text>
<line x1="154.5" y1="352.02" x2="157.5" y2="352.02" stroke="#111111" stroke-width="1.0" />
<text x="151.5" y="354.32" font-size="6.4" text-anchor="end" fill="#161616" stroke="#161616" stroke-width="0.16">0.3</text>
<line x1="154.5" y1="334.56" x2="157.5" y2="334.56" stroke="#111111" stroke-width="1.0" />
<text x="151.5" y="336.86" font-size="6.4" text-anchor="end" fill="#161616" stroke="#161616" stroke-width="0.16">0.4</text>
<line x1="154.5" y1="317.1" x2="157.5" y2="317.1" stroke="#111111" stroke-width="1.0" />
<text x="151.5" y="319.4" font-size="6.4" text-anchor="end" fill="#161616" stroke="#161616" stroke-width="0.16">0.5</text>
<line x1="156.95" y1="404.4" x2="237.5" y2="404.4" stroke="#111111" stroke-width="1.2" />
<line x1="174.3" y1="404.4" x2="174.3" y2="406.9" stroke="#111111" stroke-width="1.0" />
<line x1="200.7" y1="404.4" x2="200.7" y2="406.9" stroke="#111111" stroke-width="1.0" />
<line x1="227.2" y1="404.4" x2="227.2" y2="406.9" stroke="#111111" stroke-width="1.0" />
<text x="174.3" y="415.8" font-size="6.4" text-anchor="middle" fill="#161616" stroke="#161616" stroke-width="0.16">0</text>
<text x="200.7" y="415.8" font-size="6.4" text-anchor="middle" fill="#161616" stroke="#161616" stroke-width="0.16">10</text>
<text x="227.2" y="415.8" font-size="6.4" text-anchor="middle" fill="#161616" stroke="#161616" stroke-width="0.16">25</text>
<text x="159.2" y="414" font-size="6.3" text-anchor="end" fill="#161616" stroke="#161616" stroke-width="0.16">ARN509</text>
<text x="160.5" y="421.2" font-size="6.3" text-anchor="end" fill="#161616" stroke="#161616" stroke-width="0.16">(mg/kg/d)</text>
<text x="137.5" y="360.3" font-size="7.8" text-anchor="middle" fill="#161616" font-weight="normal" transform="rotate(-90 137.5 360.3)" textLength="51.9" lengthAdjust="spacingAndGlyphs" stroke="#161616" stroke-width="0.32">Spleen LICs (1×10<tspan dy="-2.2" font-size="4.6">7</tspan><tspan dy="2.2">)</tspan></text>
<rect x="166.3" y="364.2" width="16.4" height="40.2" fill="#ab8dc0" />
<rect x="192.8" y="374.3" width="16.3" height="30.1" fill="#fdc67f" />
<rect x="219.5" y="400.8" width="16.1" height="3.6" fill="#dfbc97" />
<line x1="174.5" y1="353.9" x2="174.5" y2="374.5" stroke="#3f1d55" stroke-width="0.8" />
<line x1="171.7" y1="353.9" x2="177.3" y2="353.9" stroke="#3f1d55" stroke-width="0.8" />
<line x1="171.7" y1="374.5" x2="177.3" y2="374.5" stroke="#3f1d55" stroke-width="0.8" />
<line x1="200.9" y1="367.1" x2="200.9" y2="381.5" stroke="#f2921d" stroke-width="0.8" />
<line x1="198.1" y1="367.1" x2="203.7" y2="367.1" stroke="#f2921d" stroke-width="0.8" />
<line x1="198.1" y1="381.5" x2="203.7" y2="381.5" stroke="#f2921d" stroke-width="0.8" />
<line x1="227.5" y1="398.4" x2="227.5" y2="403.2" stroke="#b57a3e" stroke-width="0.8" />
<line x1="224.7" y1="398.4" x2="230.3" y2="398.4" stroke="#b57a3e" stroke-width="0.8" />
<line x1="224.7" y1="403.2" x2="230.3" y2="403.2" stroke="#b57a3e" stroke-width="0.8" />
<circle cx="174.3" cy="331.1" r="1.85" fill="#3f1d55" />
<circle cx="169.5" cy="373.1" r="1.85" fill="#3f1d55" />
<circle cx="175.5" cy="371.9" r="1.85" fill="#3f1d55" />
<circle cx="175.5" cy="378.7" r="1.85" fill="#3f1d55" />
<circle cx="180.8" cy="378.7" r="1.85" fill="#3f1d55" />
<rect x="199.1" y="344.4" width="3.2" height="3.2" fill="#f2921d" />
<rect x="196.7" y="365" width="3.2" height="3.2" fill="#f2921d" />
<rect x="202.2" y="363.6" width="3.2" height="3.2" fill="#f2921d" />
<rect x="193.6" y="373.9" width="3.2" height="3.2" fill="#f2921d" />
<rect x="205.1" y="372.2" width="3.2" height="3.2" fill="#f2921d" />
<rect x="199.8" y="377.1" width="3.2" height="3.2" fill="#f2921d" />
<path d="M222.4 395L223.95 398.09L220.85 398.09Z" fill="#b57a3e"/>
<path d="M226 396.2L227.55 399.29L224.45 399.29Z" fill="#b57a3e"/>
<path d="M232 390.7L233.55 393.79L230.45 393.79Z" fill="#b57a3e"/>
<path d="M223.6 401L225.15 404.09L222.05 404.09Z" fill="#b57a3e"/>
<path d="M229 400.81L230.55 403.89L227.45 403.89Z" fill="#b57a3e"/>
<path d="M232 401.31L233.55 404.39L230.45 404.39Z" fill="#b57a3e"/>
<line x1="174.3" y1="326.3" x2="227.9" y2="326.3" stroke="#555" stroke-width="1.25" />
<text x="200.7" y="326.8" font-size="6.5" text-anchor="middle" fill="#222" font-weight="bold">**</text>
<text x="252.2" y="311" font-size="11.0" text-anchor="start" fill="#000" font-weight="bold" stroke="#000" stroke-width="0.35">J</text>
<line x1="281.3" y1="317.8" x2="281.3" y2="404.95" stroke="#111111" stroke-width="1.2" />
<line x1="278.3" y1="404.4" x2="281.3" y2="404.4" stroke="#111111" stroke-width="1.0" />
<text x="275.3" y="406.7" font-size="6.4" text-anchor="end" fill="#161616" stroke="#161616" stroke-width="0.16">0</text>
<line x1="278.3" y1="383.2" x2="281.3" y2="383.2" stroke="#111111" stroke-width="1.0" />
<text x="275.3" y="385.5" font-size="6.4" text-anchor="end" fill="#161616" stroke="#161616" stroke-width="0.16">300</text>
<line x1="278.3" y1="362" x2="281.3" y2="362" stroke="#111111" stroke-width="1.0" />
<text x="275.3" y="364.3" font-size="6.4" text-anchor="end" fill="#161616" stroke="#161616" stroke-width="0.16">600</text>
<line x1="278.3" y1="340.8" x2="281.3" y2="340.8" stroke="#111111" stroke-width="1.0" />
<text x="275.3" y="343.1" font-size="6.4" text-anchor="end" fill="#161616" stroke="#161616" stroke-width="0.16">900</text>
<line x1="278.3" y1="319.6" x2="281.3" y2="319.6" stroke="#111111" stroke-width="1.0" />
<text x="275.3" y="321.9" font-size="6.4" text-anchor="end" fill="#161616" stroke="#161616" stroke-width="0.16">1200</text>
<line x1="280.75" y1="404.4" x2="363" y2="404.4" stroke="#111111" stroke-width="1.2" />
<line x1="298.8" y1="404.4" x2="298.8" y2="406.9" stroke="#111111" stroke-width="1.0" />
<line x1="324.5" y1="404.4" x2="324.5" y2="406.9" stroke="#111111" stroke-width="1.0" />
<line x1="350.5" y1="404.4" x2="350.5" y2="406.9" stroke="#111111" stroke-width="1.0" />
<text x="298.8" y="415.8" font-size="6.4" text-anchor="middle" fill="#161616" stroke="#161616" stroke-width="0.16">0</text>
<text x="324.5" y="415.8" font-size="6.4" text-anchor="middle" fill="#161616" stroke="#161616" stroke-width="0.16">10</text>
<text x="350.5" y="415.8" font-size="6.4" text-anchor="middle" fill="#161616" stroke="#161616" stroke-width="0.16">25</text>
<text x="282.2" y="414" font-size="6.3" text-anchor="end" fill="#161616" stroke="#161616" stroke-width="0.16">ARN509</text>
<text x="283.5" y="421.2" font-size="6.3" text-anchor="end" fill="#161616" stroke="#161616" stroke-width="0.16">(mg/kg/d)</text>
<text x="259.5" y="360.7" font-size="7.8" text-anchor="middle" fill="#161616" font-weight="normal" transform="rotate(-90 259.5 360.7)" textLength="41.4" lengthAdjust="spacingAndGlyphs" stroke="#161616" stroke-width="0.32">Platelets (K/μL)</text>
<rect x="291.3" y="378.7" width="15.9" height="25.7" fill="#ab8dc0" />
<rect x="316.8" y="374.3" width="16.1" height="30.1" fill="#fdc67f" />
<rect x="342.5" y="352" width="16.2" height="52.4" fill="#dfbc97" />
<line x1="299.2" y1="374.3" x2="299.2" y2="383.1" stroke="#3f1d55" stroke-width="0.8" />
<line x1="296.4" y1="374.3" x2="302" y2="374.3" stroke="#3f1d55" stroke-width="0.8" />
<line x1="296.4" y1="383.1" x2="302" y2="383.1" stroke="#3f1d55" stroke-width="0.8" />
<line x1="324.8" y1="367.1" x2="324.8" y2="381.5" stroke="#f2921d" stroke-width="0.8" />
<line x1="322" y1="367.1" x2="327.6" y2="367.1" stroke="#f2921d" stroke-width="0.8" />
<line x1="322" y1="381.5" x2="327.6" y2="381.5" stroke="#f2921d" stroke-width="0.8" />
<line x1="350.6" y1="342.6" x2="350.6" y2="361.4" stroke="#b57a3e" stroke-width="0.8" />
<line x1="347.8" y1="342.6" x2="353.4" y2="342.6" stroke="#b57a3e" stroke-width="0.8" />
<line x1="347.8" y1="361.4" x2="353.4" y2="361.4" stroke="#b57a3e" stroke-width="0.8" />
<circle cx="299.3" cy="371.9" r="1.85" fill="#3f1d55" />
<circle cx="295.7" cy="374.3" r="1.85" fill="#3f1d55" />
<circle cx="304.8" cy="379.1" r="1.85" fill="#3f1d55" />
<circle cx="299.3" cy="381.1" r="1.85" fill="#3f1d55" />
<circle cx="295.7" cy="385.1" r="1.85" fill="#3f1d55" />
<rect x="318.1" y="366.7" width="3.2" height="3.2" fill="#f2921d" />
<rect x="324.1" y="366.7" width="3.2" height="3.2" fill="#f2921d" />
<rect x="328.9" y="367.9" width="3.2" height="3.2" fill="#f2921d" />
<rect x="319.3" y="373.9" width="3.2" height="3.2" fill="#f2921d" />
<rect x="325.3" y="373.9" width="3.2" height="3.2" fill="#f2921d" />
<rect x="330.1" y="373.9" width="3.2" height="3.2" fill="#f2921d" />
<rect x="324.1" y="381.1" width="3.2" height="3.2" fill="#f2921d" />
<path d="M351 329.81L352.55 332.89L349.45 332.89Z" fill="#b57a3e"/>
<path d="M348.6 351L350.15 354.09L347.05 354.09Z" fill="#b57a3e"/>
<path d="M351 357L352.55 360.09L349.45 360.09Z" fill="#b57a3e"/>
<path d="M345 365.41L346.55 368.5L343.45 368.5Z" fill="#b57a3e"/>
<path d="M350.5 369.7L352.05 372.79L348.95 372.79Z" fill="#b57a3e"/>
<path d="M355.8 365.41L357.35 368.5L354.25 368.5Z" fill="#b57a3e"/>
<line x1="299.3" y1="328.7" x2="351" y2="328.7" stroke="#555" stroke-width="1.25" />
<text x="325.7" y="328.9" font-size="6.5" text-anchor="middle" fill="#222" font-weight="bold">**</text>
<text x="376.2" y="311" font-size="11.0" text-anchor="start" fill="#000" font-weight="bold" stroke="#000" stroke-width="0.35">K</text>
<line x1="415.3" y1="317.8" x2="415.3" y2="404.95" stroke="#111111" stroke-width="1.2" />
<line x1="412.3" y1="404.4" x2="415.3" y2="404.4" stroke="#111111" stroke-width="1.0" />
<text x="409.3" y="406.7" font-size="6.4" text-anchor="end" fill="#161616" stroke="#161616" stroke-width="0.16">90</text>
<line x1="412.3" y1="383.35" x2="415.3" y2="383.35" stroke="#111111" stroke-width="1.0" />
<text x="409.3" y="385.65" font-size="6.4" text-anchor="end" fill="#161616" stroke="#161616" stroke-width="0.16">100</text>
<line x1="412.3" y1="362.3" x2="415.3" y2="362.3" stroke="#111111" stroke-width="1.0" />
<text x="409.3" y="364.6" font-size="6.4" text-anchor="end" fill="#161616" stroke="#161616" stroke-width="0.16">110</text>
<line x1="412.3" y1="341.25" x2="415.3" y2="341.25" stroke="#111111" stroke-width="1.0" />
<text x="409.3" y="343.55" font-size="6.4" text-anchor="end" fill="#161616" stroke="#161616" stroke-width="0.16">120</text>
<line x1="412.3" y1="320.2" x2="415.3" y2="320.2" stroke="#111111" stroke-width="1.0" />
<text x="409.3" y="322.5" font-size="6.4" text-anchor="end" fill="#161616" stroke="#161616" stroke-width="0.16">130</text>
<line x1="414.75" y1="404.4" x2="491" y2="404.4" stroke="#111111" stroke-width="1.2" />
<line x1="432.6" y1="404.4" x2="432.6" y2="406.9" stroke="#111111" stroke-width="1.0" />
<line x1="458.5" y1="404.4" x2="458.5" y2="406.9" stroke="#111111" stroke-width="1.0" />
<line x1="483.8" y1="404.4" x2="483.8" y2="406.9" stroke="#111111" stroke-width="1.0" />
<text x="432.6" y="415.8" font-size="6.4" text-anchor="middle" fill="#161616" stroke="#161616" stroke-width="0.16">0</text>
<text x="458.5" y="415.8" font-size="6.4" text-anchor="middle" fill="#161616" stroke="#161616" stroke-width="0.16">10</text>
<text x="483.8" y="415.8" font-size="6.4" text-anchor="middle" fill="#161616" stroke="#161616" stroke-width="0.16">25</text>
<text x="415.7" y="414" font-size="6.3" text-anchor="end" fill="#161616" stroke="#161616" stroke-width="0.16">ARN509</text>
<text x="417" y="421.2" font-size="6.3" text-anchor="end" fill="#161616" stroke="#161616" stroke-width="0.16">(mg/kg/d)</text>
<text x="383.5" y="360.7" font-size="7.8" text-anchor="middle" fill="#161616" font-weight="normal" transform="rotate(-90 383.5 360.7)" textLength="28.4" lengthAdjust="spacingAndGlyphs" stroke="#161616" stroke-width="0.32">% Ratio of</text>
<text x="393" y="361.1" font-size="7.8" text-anchor="middle" fill="#161616" font-weight="normal" transform="rotate(-90 393 361.1)" textLength="56.8" lengthAdjust="spacingAndGlyphs" stroke="#161616" stroke-width="0.32">after/before treatment</text>
<line x1="432.6" y1="347.4" x2="432.6" y2="358" stroke="#6f4e8c" stroke-width="0.8" />
<line x1="432.6" y1="384.4" x2="432.6" y2="391.2" stroke="#6f4e8c" stroke-width="0.8" />
<line x1="429.4" y1="347.4" x2="435.8" y2="347.4" stroke="#6f4e8c" stroke-width="0.8" />
<line x1="429.4" y1="391.2" x2="435.8" y2="391.2" stroke="#6f4e8c" stroke-width="0.8" />
<rect x="425.4" y="358" width="14.4" height="26.4" fill="#a98cc0" stroke="#6f4e8c" stroke-width="0.6"/>
<line x1="425.4" y1="367.6" x2="439.8" y2="367.6" stroke="#6f4e8c" stroke-width="0.9" />
<line x1="458.55" y1="362" x2="458.55" y2="363" stroke="#f5b462" stroke-width="0.8" />
<line x1="458.55" y1="380.3" x2="458.55" y2="382" stroke="#f5b462" stroke-width="0.8" />
<line x1="455.35" y1="362" x2="461.75" y2="362" stroke="#f5b462" stroke-width="0.8" />
<line x1="455.35" y1="382" x2="461.75" y2="382" stroke="#f5b462" stroke-width="0.8" />
<rect x="451.3" y="363" width="14.5" height="17.3" fill="#fcd09a" stroke="#f5b462" stroke-width="0.6"/>
<line x1="451.3" y1="371.9" x2="465.8" y2="371.9" stroke="#f5b462" stroke-width="0.9" />
<line x1="484.4" y1="365.5" x2="484.4" y2="365.9" stroke="#c99868" stroke-width="0.8" />
<line x1="484.4" y1="379.6" x2="484.4" y2="384" stroke="#c99868" stroke-width="0.8" />
<line x1="481.2" y1="365.5" x2="487.6" y2="365.5" stroke="#c99868" stroke-width="0.8" />
<line x1="481.2" y1="384" x2="487.6" y2="384" stroke="#c99868" stroke-width="0.8" />
<rect x="477.8" y="365.9" width="13.2" height="13.7" fill="#e2c3a3" stroke="#c99868" stroke-width="0.6"/>
<line x1="477.8" y1="379.6" x2="491" y2="379.6" stroke="#c99868" stroke-width="0.9" />
<circle cx="432.6" cy="347.4" r="1.85" fill="#3f1d55" />
<circle cx="435" cy="366.4" r="1.85" fill="#3f1d55" />
<circle cx="429.7" cy="368.3" r="1.85" fill="#3f1d55" />
<circle cx="432.6" cy="379.6" r="1.85" fill="#3f1d55" />
<circle cx="432.6" cy="391.2" r="1.85" fill="#3f1d55" />
<rect x="453.65" y="361.85" width="3.3" height="3.3" fill="#f2921d" />
<rect x="459.15" y="360.65" width="3.3" height="3.3" fill="#f2921d" />
<rect x="451.15" y="369.75" width="3.3" height="3.3" fill="#f2921d" />
<rect x="459.65" y="370.75" width="3.3" height="3.3" fill="#f2921d" />
<rect x="453.65" y="375.05" width="3.3" height="3.3" fill="#f2921d" />
<rect x="461.55" y="377.45" width="3.3" height="3.3" fill="#f2921d" />
<rect x="456.65" y="379.15" width="3.3" height="3.3" fill="#f2921d" />
<rect x="450.65" y="376.35" width="3.3" height="3.3" fill="#f2921d" />
<path d="M481.4 364.31L482.95 367.39L479.85 367.39Z" fill="#b57a3e"/>
<path d="M485 364.31L486.55 367.39L483.45 367.39Z" fill="#b57a3e"/>
<path d="M486.9 369.7L488.45 372.79L485.35 372.79Z" fill="#b57a3e"/>
<path d="M477.8 377.91L479.35 381L476.25 381Z" fill="#b57a3e"/>
<path d="M483.1 377.91L484.65 381L481.55 381Z" fill="#b57a3e"/>
<path d="M489.3 377.91L490.85 381L487.75 381Z" fill="#b57a3e"/>
<circle cx="481.4" cy="384" r="1.2" fill="#b57a3e" />
<text x="6.1" y="446.7" font-size="11.0" text-anchor="start" fill="#000" font-weight="bold" stroke="#000" stroke-width="0.35">L</text>
<line x1="35" y1="453" x2="35" y2="539.75" stroke="#111111" stroke-width="1.2" />
<line x1="32" y1="539.2" x2="35" y2="539.2" stroke="#111111" stroke-width="1.0" />
<text x="29" y="541.5" font-size="6.4" text-anchor="end" fill="#161616" stroke="#161616" stroke-width="0.16">0</text>
<line x1="32" y1="500" x2="35" y2="500" stroke="#111111" stroke-width="1.0" />
<text x="29" y="502.3" font-size="6.4" text-anchor="end" fill="#161616" stroke="#161616" stroke-width="0.16">50</text>
<line x1="32" y1="460.8" x2="35" y2="460.8" stroke="#111111" stroke-width="1.0" />
<text x="29" y="463.1" font-size="6.4" text-anchor="end" fill="#161616" stroke="#161616" stroke-width="0.16">100</text>
<line x1="34.45" y1="539.2" x2="162.5" y2="539.2" stroke="#111111" stroke-width="1.2" />
<line x1="35" y1="539.2" x2="35" y2="541.7" stroke="#111111" stroke-width="1.0" />
<line x1="55.75" y1="539.2" x2="55.75" y2="541.7" stroke="#111111" stroke-width="1.0" />
<line x1="76.5" y1="539.2" x2="76.5" y2="541.7" stroke="#111111" stroke-width="1.0" />
<line x1="97.25" y1="539.2" x2="97.25" y2="541.7" stroke="#111111" stroke-width="1.0" />
<line x1="118" y1="539.2" x2="118" y2="541.7" stroke="#111111" stroke-width="1.0" />
<line x1="138.75" y1="539.2" x2="138.75" y2="541.7" stroke="#111111" stroke-width="1.0" />
<line x1="159.5" y1="539.2" x2="159.5" y2="541.7" stroke="#111111" stroke-width="1.0" />
<text x="35" y="551" font-size="6.4" text-anchor="middle" fill="#161616" stroke="#161616" stroke-width="0.16">0</text>
<text x="55.75" y="551" font-size="6.4" text-anchor="middle" fill="#161616" stroke="#161616" stroke-width="0.16">10</text>
<text x="76.5" y="551" font-size="6.4" text-anchor="middle" fill="#161616" stroke="#161616" stroke-width="0.16">20</text>
<text x="97.25" y="551" font-size="6.4" text-anchor="middle" fill="#161616" stroke="#161616" stroke-width="0.16">30</text>
<text x="118" y="551" font-size="6.4" text-anchor="middle" fill="#161616" stroke="#161616" stroke-width="0.16">40</text>
<text x="138.75" y="551" font-size="6.4" text-anchor="middle" fill="#161616" stroke="#161616" stroke-width="0.16">50</text>
<text x="159.5" y="551" font-size="6.4" text-anchor="middle" fill="#161616" stroke="#161616" stroke-width="0.16">60</text>
<text x="98.5" y="561" font-size="7.8" text-anchor="middle" fill="#161616" font-weight="normal" textLength="88.4" lengthAdjust="spacingAndGlyphs" stroke="#161616" stroke-width="0.38">Days post transplantation (2<tspan dy="-2.2" font-size="4.6">o</tspan><tspan dy="2.2"> AML)</tspan></text>
<text x="12" y="496" font-size="7.8" text-anchor="middle" fill="#161616" font-weight="normal" transform="rotate(-90 12 496)" textLength="53.3" lengthAdjust="spacingAndGlyphs" stroke="#161616" stroke-width="0.32">Probability of survival</text>
<path d="M35 460.5H82.9V482.5H84.5V532.7H86.6V539.2" fill="none" stroke="#d2385f" stroke-width="1.0"/>
<path d="M78.8 460.5V469.8H159.8" fill="none" stroke="#d2385f" stroke-width="0.9" stroke-dasharray="2.1 1.3"/>
<line x1="86.5" y1="471" x2="87.7" y2="468.6" stroke="#d2385f" stroke-width="0.7" />
<line x1="106.4" y1="471" x2="107.6" y2="468.6" stroke="#d2385f" stroke-width="0.7" />
<line x1="159.8" y1="468.3" x2="159.8" y2="471.3" stroke="#d2385f" stroke-width="0.7" />
<line x1="145" y1="475" x2="150" y2="475" stroke="none" stroke-width="0" />
<text x="148.7" y="479.2" font-size="6.5" text-anchor="middle" fill="#222" font-weight="bold">**</text>
<line x1="36.6" y1="572.3" x2="47.4" y2="572.3" stroke="#d2385f" stroke-width="1.0" />
<path d="M42 570.7L43 572.8L41 572.8Z" fill="#d2385f"/>
<text x="50.4" y="574.5" font-size="5.95" text-anchor="start" fill="#d2385f" stroke="#d2385f" stroke-width="0.16" textLength="84.2">high AR donor -&gt; Female n = 11</text>
<line x1="36.6" y1="583.4" x2="47.4" y2="583.4" stroke="#d2385f" stroke-width="0.9" stroke-dasharray="2 1.4"/>
<path d="M42 581.71L43.1 583.99L40.9 583.99Z" fill="#d2385f"/>
<text x="50.4" y="585.6" font-size="5.95" text-anchor="start" fill="#d2385f" stroke="#d2385f" stroke-width="0.16" textLength="110">high AR donor+ARN509 -&gt; Female n = 8</text>
<text x="179" y="446.7" font-size="11.0" text-anchor="start" fill="#000" font-weight="bold" stroke="#000" stroke-width="0.35">M</text>
<path d="M233 505 C232 498 240 494 247 496 C252 488 262 484 270 486 C270 478 276 471 284 472 C292 473 296 480 295 489 C301 494 303 504 299 512 C303 520 299 532 290 536 C286 544 272 547 262 543 C254 548 240 547 234 540 C227 536 226 526 231 520 C228 514 229 508 233 505 Z" fill="#fbe4e9"/>
<path d="M178.6 480.4 L243.6 502.6 L274.6 502.6 L253.3 480.4 Z" fill="#e0e2eb"/>
<line x1="178.6" y1="480.8" x2="243.6" y2="503" stroke="#444" stroke-width="1.0" stroke-dasharray="2.2 1.5"/>
<line x1="253.3" y1="480.8" x2="274.3" y2="503" stroke="#444" stroke-width="1.0" stroke-dasharray="2.2 1.5"/>
<rect x="178.3" y="453.3" width="74.6" height="27" fill="#fff" stroke="#333" stroke-width="1.0"/>
<rect x="180.6" y="460" width="69.6" height="12.3" fill="#20385e" />
<rect x="181.4" y="461.3" width="2.1" height="4.0" fill="#b83a60"/>
<rect x="181.4" y="466.7" width="2.1" height="4.0" fill="#7a3a93"/>
<rect x="184" y="461.3" width="2.1" height="4.0" fill="#3a62b0"/>
<rect x="184" y="466.7" width="2.1" height="4.0" fill="#2a7a9c"/>
<rect x="186.6" y="461.3" width="2.1" height="4.0" fill="#2b8c8a"/>
<rect x="186.6" y="466.7" width="2.1" height="4.0" fill="#2b8c8a"/>
<rect x="189.2" y="461.3" width="2.1" height="4.0" fill="#9a3f7a"/>
<rect x="189.2" y="466.7" width="2.1" height="4.0" fill="#3d8a5c"/>
<rect x="191.8" y="461.3" width="2.1" height="4.0" fill="#2b8c8a"/>
<rect x="191.8" y="466.7" width="2.1" height="4.0" fill="#b83a60"/>
<rect x="194.4" y="461.3" width="2.1" height="4.0" fill="#3d8a5c"/>
<rect x="194.4" y="466.7" width="2.1" height="4.0" fill="#2b8c8a"/>
<rect x="197" y="461.3" width="2.1" height="4.0" fill="#3d8a5c"/>
<rect x="197" y="466.7" width="2.1" height="4.0" fill="#7a3a93"/>
<rect x="199.6" y="461.3" width="2.1" height="4.0" fill="#2b8c8a"/>
<rect x="199.6" y="466.7" width="2.1" height="4.0" fill="#2b8c8a"/>
<rect x="202.2" y="461.3" width="2.1" height="4.0" fill="#3a62b0"/>
<rect x="202.2" y="466.7" width="2.1" height="4.0" fill="#3a62b0"/>
<rect x="204.8" y="461.3" width="2.1" height="4.0" fill="#2b8c8a"/>
<rect x="204.8" y="466.7" width="2.1" height="4.0" fill="#7a3a93"/>
<rect x="207.4" y="461.3" width="2.1" height="4.0" fill="#2b8c8a"/>
<rect x="207.4" y="466.7" width="2.1" height="4.0" fill="#3d8a5c"/>
<rect x="210" y="461.3" width="2.1" height="4.0" fill="#3a62b0"/>
<rect x="210" y="466.7" width="2.1" height="4.0" fill="#2b8c8a"/>
<rect x="212.6" y="461.3" width="2.1" height="4.0" fill="#9a3f7a"/>
<rect x="212.6" y="466.7" width="2.1" height="4.0" fill="#3d8a5c"/>
<rect x="215.2" y="461.3" width="2.1" height="4.0" fill="#2b8c8a"/>
<rect x="215.2" y="466.7" width="2.1" height="4.0" fill="#7a3a93"/>
<rect x="217.8" y="461.3" width="2.1" height="4.0" fill="#2a7a9c"/>
<rect x="217.8" y="466.7" width="2.1" height="4.0" fill="#2a7a9c"/>
<rect x="220.4" y="461.3" width="2.1" height="4.0" fill="#3d8a5c"/>
<rect x="220.4" y="466.7" width="2.1" height="4.0" fill="#2b8c8a"/>
<rect x="223" y="461.3" width="2.1" height="4.0" fill="#3d8a5c"/>
<rect x="223" y="466.7" width="2.1" height="4.0" fill="#3d8a5c"/>
<rect x="225.6" y="461.3" width="2.1" height="4.0" fill="#3a62b0"/>
<rect x="225.6" y="466.7" width="2.1" height="4.0" fill="#2b8c8a"/>
<rect x="228.2" y="461.3" width="2.1" height="4.0" fill="#7a3a93"/>
<rect x="228.2" y="466.7" width="2.1" height="4.0" fill="#2b8c8a"/>
<rect x="230.8" y="461.3" width="2.1" height="4.0" fill="#3d8a5c"/>
<rect x="230.8" y="466.7" width="2.1" height="4.0" fill="#9a3f7a"/>
<rect x="233.4" y="461.3" width="2.1" height="4.0" fill="#7a3a93"/>
<rect x="233.4" y="466.7" width="2.1" height="4.0" fill="#b83a60"/>
<rect x="236" y="461.3" width="2.1" height="4.0" fill="#3a62b0"/>
<rect x="236" y="466.7" width="2.1" height="4.0" fill="#7a3a93"/>
<rect x="238.6" y="461.3" width="2.1" height="4.0" fill="#3d8a5c"/>
<rect x="238.6" y="466.7" width="2.1" height="4.0" fill="#2b8c8a"/>
<rect x="241.2" y="461.3" width="2.1" height="4.0" fill="#3d8a5c"/>
<rect x="241.2" y="466.7" width="2.1" height="4.0" fill="#b83a60"/>
<rect x="243.8" y="461.3" width="2.1" height="4.0" fill="#3d8a5c"/>
<rect x="243.8" y="466.7" width="2.1" height="4.0" fill="#9a3f7a"/>
<rect x="246.4" y="461.3" width="2.1" height="4.0" fill="#2a7a9c"/>
<rect x="246.4" y="466.7" width="2.1" height="4.0" fill="#7a3a93"/>
<rect x="249" y="461.3" width="2.1" height="4.0" fill="#2b8c8a"/>
<rect x="249" y="466.7" width="2.1" height="4.0" fill="#3d8a5c"/>
<rect x="243.6" y="502.6" width="31" height="11.2" fill="#f4f5f8" stroke="#5b6577" stroke-width="0.8"/>
<line x1="245.2" y1="504.4" x2="245.2" y2="512.4" stroke="#8e9bb3" stroke-width="0.5" />
<line x1="247.05" y1="504.4" x2="247.05" y2="512.4" stroke="#8e9bb3" stroke-width="0.5" />
<line x1="248.9" y1="504.4" x2="248.9" y2="512.4" stroke="#8e9bb3" stroke-width="0.5" />
<line x1="250.75" y1="504.4" x2="250.75" y2="512.4" stroke="#8e9bb3" stroke-width="0.5" />
<line x1="252.6" y1="504.4" x2="252.6" y2="512.4" stroke="#8e9bb3" stroke-width="0.5" />
<line x1="254.45" y1="504.4" x2="254.45" y2="512.4" stroke="#8e9bb3" stroke-width="0.5" />
<line x1="256.3" y1="504.4" x2="256.3" y2="512.4" stroke="#8e9bb3" stroke-width="0.5" />
<line x1="258.15" y1="504.4" x2="258.15" y2="512.4" stroke="#8e9bb3" stroke-width="0.5" />
<line x1="260" y1="504.4" x2="260" y2="512.4" stroke="#8e9bb3" stroke-width="0.5" />
<line x1="261.85" y1="504.4" x2="261.85" y2="512.4" stroke="#8e9bb3" stroke-width="0.5" />
<line x1="263.7" y1="504.4" x2="263.7" y2="512.4" stroke="#8e9bb3" stroke-width="0.5" />
<line x1="265.55" y1="504.4" x2="265.55" y2="512.4" stroke="#8e9bb3" stroke-width="0.5" />
<line x1="267.4" y1="504.4" x2="267.4" y2="512.4" stroke="#8e9bb3" stroke-width="0.5" />
<line x1="269.25" y1="504.4" x2="269.25" y2="512.4" stroke="#8e9bb3" stroke-width="0.5" />
<line x1="271.1" y1="504.4" x2="271.1" y2="512.4" stroke="#8e9bb3" stroke-width="0.5" />
<line x1="272.95" y1="504.4" x2="272.95" y2="512.4" stroke="#8e9bb3" stroke-width="0.5" />
<path d="M226 521.6 C230 521.6 233 521.4 236 518.5 C238.5 515.8 240.5 514.3 243.6 514 H274.6 C278.5 514.3 280.5 516.5 282.5 519 C284.5 521.2 286.5 521.6 289 521.6" fill="none" stroke="#2b4a78" stroke-width="1"/>
<path d="M226 527.8 C231 527.8 234 528.5 236.5 531.5 C238.5 534 240.5 534.6 244 534.6 H276 C279.5 534.6 281.5 533 283.5 530.5 C285.5 528.3 287 527.8 289 527.8" fill="none" stroke="#2b4a78" stroke-width="1"/>
<line x1="211" y1="523.51" x2="211" y2="525.29" stroke="#b8cfe6" stroke-width="0.4" />
<line x1="212.7" y1="521.81" x2="212.7" y2="526.99" stroke="#b8cfe6" stroke-width="0.4" />
<line x1="214.4" y1="523.18" x2="214.4" y2="525.62" stroke="#b8cfe6" stroke-width="0.4" />
<line x1="216.1" y1="523.69" x2="216.1" y2="525.11" stroke="#b8cfe6" stroke-width="0.4" />
<line x1="217.8" y1="521.82" x2="217.8" y2="526.98" stroke="#b8cfe6" stroke-width="0.4" />
<line x1="219.5" y1="523.03" x2="219.5" y2="525.77" stroke="#b8cfe6" stroke-width="0.4" />
<line x1="222.9" y1="521.85" x2="222.9" y2="526.95" stroke="#b8cfe6" stroke-width="0.4" />
<line x1="224.6" y1="522.88" x2="224.6" y2="525.92" stroke="#b8cfe6" stroke-width="0.4" />
<polyline points="210.2,524.4 210.7,525.35 211.2,526.22 211.7,526.92 212.2,527.39 212.7,527.59 213.2,527.51 213.7,527.14 214.2,526.52 214.7,525.71 215.2,524.79 215.7,523.82 216.2,522.91 216.7,522.14 217.2,521.57 217.7,521.25 218.2,521.22 218.7,521.48 219.2,522 219.7,522.74 220.2,523.63 220.7,524.59 221.2,525.53 221.7,526.37 222.2,527.03 222.7,527.46 223.2,527.6 223.7,527.46 224.2,527.03 224.7,526.37 225.2,525.53 225.7,524.59 226.2,523.63" fill="none" stroke="#1c3560" stroke-width="1.15"/>
<polyline points="210.2,524.4 210.7,523.45 211.2,522.58 211.7,521.88 212.2,521.41 212.7,521.21 213.2,521.29 213.7,521.66 214.2,522.28 214.7,523.09 215.2,524.01 215.7,524.98 216.2,525.89 216.7,526.66 217.2,527.23 217.7,527.55 218.2,527.58 218.7,527.32 219.2,526.8 219.7,526.06 220.2,525.17 220.7,524.21 221.2,523.27 221.7,522.43 222.2,521.77 222.7,521.34 223.2,521.2 223.7,521.34 224.2,521.77 224.7,522.43 225.2,523.27 225.7,524.21 226.2,525.17" fill="none" stroke="#2f6db5" stroke-width="1.15"/>
<line x1="289.3" y1="522.81" x2="289.3" y2="524.39" stroke="#b8cfe6" stroke-width="0.4" />
<line x1="291" y1="521.21" x2="291" y2="525.99" stroke="#b8cfe6" stroke-width="0.4" />
<line x1="292.7" y1="522.5" x2="292.7" y2="524.7" stroke="#b8cfe6" stroke-width="0.4" />
<line x1="294.4" y1="522.97" x2="294.4" y2="524.23" stroke="#b8cfe6" stroke-width="0.4" />
<line x1="296.1" y1="521.22" x2="296.1" y2="525.98" stroke="#b8cfe6" stroke-width="0.4" />
<line x1="297.8" y1="522.35" x2="297.8" y2="524.85" stroke="#b8cfe6" stroke-width="0.4" />
<line x1="301.2" y1="521.25" x2="301.2" y2="525.95" stroke="#b8cfe6" stroke-width="0.4" />
<line x1="302.9" y1="522.21" x2="302.9" y2="524.99" stroke="#b8cfe6" stroke-width="0.4" />
<line x1="306.3" y1="521.29" x2="306.3" y2="525.91" stroke="#b8cfe6" stroke-width="0.4" />
<line x1="308" y1="522.08" x2="308" y2="525.12" stroke="#b8cfe6" stroke-width="0.4" />
<line x1="311.4" y1="521.34" x2="311.4" y2="525.86" stroke="#b8cfe6" stroke-width="0.4" />
<line x1="313.1" y1="521.95" x2="313.1" y2="525.25" stroke="#b8cfe6" stroke-width="0.4" />
<line x1="316.5" y1="521.39" x2="316.5" y2="525.81" stroke="#b8cfe6" stroke-width="0.4" />
<line x1="318.2" y1="521.84" x2="318.2" y2="525.36" stroke="#b8cfe6" stroke-width="0.4" />
<line x1="321.6" y1="521.46" x2="321.6" y2="525.74" stroke="#b8cfe6" stroke-width="0.4" />
<line x1="323.3" y1="521.73" x2="323.3" y2="525.47" stroke="#b8cfe6" stroke-width="0.4" />
<line x1="326.7" y1="521.54" x2="326.7" y2="525.66" stroke="#b8cfe6" stroke-width="0.4" />
<line x1="328.4" y1="521.63" x2="328.4" y2="525.57" stroke="#b8cfe6" stroke-width="0.4" />
<line x1="331.8" y1="521.63" x2="331.8" y2="525.57" stroke="#b8cfe6" stroke-width="0.4" />
<line x1="333.5" y1="521.54" x2="333.5" y2="525.66" stroke="#b8cfe6" stroke-width="0.4" />
<line x1="336.9" y1="521.73" x2="336.9" y2="525.47" stroke="#b8cfe6" stroke-width="0.4" />
<polyline points="288.5,523.6 289,524.49 289.5,525.3 290,525.96 290.5,526.41 291,526.59 291.5,526.51 292,526.17 292.5,525.59 293,524.83 293.5,523.96 294,523.06 294.5,522.21 295,521.48 295.5,520.94 296,520.65 296.5,520.62 297,520.86 297.5,521.35 298,522.05 298.5,522.88 299,523.78 299.5,524.66 300,525.45 300.5,526.07 301,526.46 301.5,526.6 302,526.46 302.5,526.07 303,525.45 303.5,524.66 304,523.78 304.5,522.88 305,522.05 305.5,521.35 306,520.86 306.5,520.62 307,520.65 307.5,520.94 308,521.48 308.5,522.21 309,523.06 309.5,523.96 310,524.83 310.5,525.59 311,526.17 311.5,526.51 312,526.59 312.5,526.41 313,525.96 313.5,525.3 314,524.49 314.5,523.6 315,522.71 315.5,521.9 316,521.24 316.5,520.79 317,520.61 317.5,520.69 318,521.03 318.5,521.61 319,522.37 319.5,523.24 320,524.14 320.5,524.99 321,525.72 321.5,526.26 322,526.55 322.5,526.58 323,526.34 323.5,525.85 324,525.15 324.5,524.32 325,523.42 325.5,522.54 326,521.75 326.5,521.13 327,520.74 327.5,520.6 328,520.74 328.5,521.13 329,521.75 329.5,522.54 330,523.42 330.5,524.32 331,525.15 331.5,525.85 332,526.34 332.5,526.58 333,526.55 333.5,526.26 334,525.72 334.5,524.99 335,524.14 335.5,523.24 336,522.37 336.5,521.61 337,521.03 337.5,520.69 338,520.61 338.5,520.79" fill="none" stroke="#1c3560" stroke-width="1.15"/>
<polyline points="288.5,523.6 289,522.71 289.5,521.9 290,521.24 290.5,520.79 291,520.61 291.5,520.69 292,521.03 292.5,521.61 293,522.37 293.5,523.24 294,524.14 294.5,524.99 295,525.72 295.5,526.26 296,526.55 296.5,526.58 297,526.34 297.5,525.85 298,525.15 298.5,524.32 299,523.42 299.5,522.54 300,521.75 300.5,521.13 301,520.74 301.5,520.6 302,520.74 302.5,521.13 303,521.75 303.5,522.54 304,523.42 304.5,524.32 305,525.15 305.5,525.85 306,526.34 306.5,526.58 307,526.55 307.5,526.26 308,525.72 308.5,524.99 309,524.14 309.5,523.24 310,522.37 310.5,521.61 311,521.03 311.5,520.69 312,520.61 312.5,520.79 313,521.24 313.5,521.9 314,522.71 314.5,523.6 315,524.49 315.5,525.3 316,525.96 316.5,526.41 317,526.59 317.5,526.51 318,526.17 318.5,525.59 319,524.83 319.5,523.96 320,523.06 320.5,522.21 321,521.48 321.5,520.94 322,520.65 322.5,520.62 323,520.86 323.5,521.35 324,522.05 324.5,522.88 325,523.78 325.5,524.66 326,525.45 326.5,526.07 327,526.46 327.5,526.6 328,526.46 328.5,526.07 329,525.45 329.5,524.66 330,523.78 330.5,522.88 331,522.05 331.5,521.35 332,520.86 332.5,520.62 333,520.65 333.5,520.94 334,521.48 334.5,522.21 335,523.06 335.5,523.96 336,524.83 336.5,525.59 337,526.17 337.5,526.51 338,526.59 338.5,526.41" fill="none" stroke="#2f6db5" stroke-width="1.15"/>
<text x="260" y="531.6" font-size="6.2" text-anchor="middle" fill="#e0546d" stroke="#e0546d" stroke-width="0.16">dCas9</text>
<text x="278.1" y="467.4" font-size="6.2" text-anchor="middle" fill="#d8475c" stroke="#d8475c" stroke-width="0.16">sgRNA</text>
<line x1="278.4" y1="471" x2="278.4" y2="478" stroke="#d8475c" stroke-width="0.8" />
<path d="M276.2 505 V481.8 C276.2 478.5 281.5 478.5 281.5 481.8 V503.5 C281.5 506 285.5 506 285.5 503.5 V486.5 C285.5 483 291.7 483 291.7 486.5 V497.5 C292.5 498.5 294 498.5 296 497.5" fill="none" stroke="#d8475c" stroke-width="0.85"/>
<line x1="276.6" y1="483" x2="281.1" y2="483" stroke="#efa9b3" stroke-width="0.5" />
<line x1="276.6" y1="485" x2="281.1" y2="485" stroke="#efa9b3" stroke-width="0.5" />
<line x1="276.6" y1="487" x2="281.1" y2="487" stroke="#efa9b3" stroke-width="0.5" />
<line x1="276.6" y1="489" x2="281.1" y2="489" stroke="#efa9b3" stroke-width="0.5" />
<line x1="276.6" y1="491" x2="281.1" y2="491" stroke="#efa9b3" stroke-width="0.5" />
<line x1="276.6" y1="493" x2="281.1" y2="493" stroke="#efa9b3" stroke-width="0.5" />
<line x1="276.6" y1="495" x2="281.1" y2="495" stroke="#efa9b3" stroke-width="0.5" />
<line x1="276.6" y1="497" x2="281.1" y2="497" stroke="#efa9b3" stroke-width="0.5" />
<line x1="276.6" y1="499" x2="281.1" y2="499" stroke="#efa9b3" stroke-width="0.5" />
<line x1="276.6" y1="501" x2="281.1" y2="501" stroke="#efa9b3" stroke-width="0.5" />
<line x1="276.6" y1="503" x2="281.1" y2="503" stroke="#efa9b3" stroke-width="0.5" />
<path d="M291 468 C292 461 303 460 310 464 C315 467 317 474 316.5 481 C316 489 313 497 306 497.5 C300 498 298.5 492 296.5 488 C294.5 484 290 478 291 468 Z" fill="#d06a24"/>
<text x="304.6" y="480.2" font-size="6.0" text-anchor="middle" fill="#fff" stroke="#fff" stroke-width="0.16">KRAB</text>
<path d="M316.2 478 H324.7 V509.7 M322 509.7 H327.4" fill="none" stroke="#555" stroke-width="0.8"/>
<path d="M310.8 518.5 V511.6 H330" fill="none" stroke="#222" stroke-width="0.8"/>
<path d="M329.5 509.9 L333 511.6 L329.5 513.3 Z" fill="#222"/>
<text x="335.2" y="514" font-size="6.0" text-anchor="start" fill="#e04a5a" stroke="#e04a5a" stroke-width="0.16" font-style="italic">Ar</text>
<text x="180.7" y="566.5" font-size="11.0" text-anchor="start" fill="#000" font-weight="bold" stroke="#000" stroke-width="0.35">N</text>
<text x="250" y="562.6" font-size="6.0" text-anchor="middle" fill="#161616" stroke="#161616" stroke-width="0.16" font-style="italic">Ctl</text>
<text x="277.7" y="562.6" font-size="6.0" text-anchor="middle" fill="#161616" stroke="#161616" stroke-width="0.16" font-style="italic">AR KD</text>
<text x="232.8" y="573.3" font-size="6.0" text-anchor="end" fill="#161616" stroke="#161616" stroke-width="0.16">AR</text>
<text x="233.3" y="586.4" font-size="6.0" text-anchor="end" fill="#161616" stroke="#161616" stroke-width="0.16">β-actin</text>
<defs>
<linearGradient id="arband" x1="0" x2="1" y1="0" y2="0">
<stop offset="0" stop-color="#9a9a9a"/><stop offset="0.55" stop-color="#3a3a3a"/><stop offset="0.85" stop-color="#2a2a2a"/><stop offset="1" stop-color="#777"/></linearGradient>
<radialGradient id="bl" cx="0.5" cy="0.5" r="0.5"><stop offset="0" stop-color="#111"/><stop offset="0.7" stop-color="#222"/><stop offset="1" stop-color="#222" stop-opacity="0"/></radialGradient>
</defs>
<rect x="236.2" y="565" width="54.2" height="12.7" fill="#f2f2f2" stroke="#333" stroke-width="0.8"/>
<rect x="239.5" y="568.4" width="23" height="4.6" fill="url(#arband)" rx="1.5" opacity="0.85"/>
<rect x="265.5" y="569.2" width="22" height="3.5" fill="#bdbdbd" rx="1.5" opacity="0.8"/>
<line x1="263.8" y1="565.3" x2="263.8" y2="577.4" stroke="#555" stroke-width="0.7" />
<rect x="236.2" y="579.5" width="54.2" height="10.2" fill="#f7f7f7" stroke="#333" stroke-width="0.8"/>
<rect x="239.6" y="582.6" width="19.5" height="3.8" fill="#1a1a1a" rx="1.6"/>
<rect x="266.2" y="582.6" width="20.8" height="3.8" fill="#1a1a1a" rx="1.6"/>
<text x="356.5" y="446.9" font-size="11.0" text-anchor="start" fill="#000" font-weight="bold" stroke="#000" stroke-width="0.35">O</text>
<line x1="384.3" y1="453" x2="384.3" y2="539.25" stroke="#111111" stroke-width="1.2" />
<line x1="381.3" y1="538.7" x2="384.3" y2="538.7" stroke="#111111" stroke-width="1.0" />
<text x="378.3" y="541" font-size="6.4" text-anchor="end" fill="#161616" stroke="#161616" stroke-width="0.16">0</text>
<line x1="381.3" y1="499.65" x2="384.3" y2="499.65" stroke="#111111" stroke-width="1.0" />
<text x="378.3" y="501.95" font-size="6.4" text-anchor="end" fill="#161616" stroke="#161616" stroke-width="0.16">50</text>
<line x1="381.3" y1="460.6" x2="384.3" y2="460.6" stroke="#111111" stroke-width="1.0" />
<text x="378.3" y="462.9" font-size="6.4" text-anchor="end" fill="#161616" stroke="#161616" stroke-width="0.16">100</text>
<line x1="383.75" y1="538.7" x2="510.2" y2="538.7" stroke="#111111" stroke-width="1.2" />
<line x1="384.3" y1="538.7" x2="384.3" y2="541.2" stroke="#111111" stroke-width="1.0" />
<line x1="426" y1="538.7" x2="426" y2="541.2" stroke="#111111" stroke-width="1.0" />
<line x1="467.7" y1="538.7" x2="467.7" y2="541.2" stroke="#111111" stroke-width="1.0" />
<line x1="509.4" y1="538.7" x2="509.4" y2="541.2" stroke="#111111" stroke-width="1.0" />
<text x="384.3" y="551" font-size="6.4" text-anchor="middle" fill="#161616" stroke="#161616" stroke-width="0.16">0</text>
<text x="426" y="551" font-size="6.4" text-anchor="middle" fill="#161616" stroke="#161616" stroke-width="0.16">20</text>
<text x="467.7" y="551" font-size="6.4" text-anchor="middle" fill="#161616" stroke="#161616" stroke-width="0.16">40</text>
<text x="509.4" y="551" font-size="6.4" text-anchor="middle" fill="#161616" stroke="#161616" stroke-width="0.16">60</text>
<text x="448.6" y="561.1" font-size="7.8" text-anchor="middle" fill="#161616" font-weight="normal" textLength="88" lengthAdjust="spacingAndGlyphs" stroke="#161616" stroke-width="0.38">Days post transplantation (2<tspan dy="-2.2" font-size="4.6">o</tspan><tspan dy="2.2"> AML)</tspan></text>
<text x="362" y="496" font-size="7.8" text-anchor="middle" fill="#161616" font-weight="normal" transform="rotate(-90 362 496)" textLength="53.3" lengthAdjust="spacingAndGlyphs" stroke="#161616" stroke-width="0.32">Probability of survival</text>
<path d="M445.3 460.5V508H448.8V522.6H454.7V538.7" fill="none" stroke="#d8406a" stroke-width="1.1" stroke-dasharray="1.4 1.0"/>
<path d="M446.9 460.5V509H452.9V520.3H455.3V538.7" fill="none" stroke="#4a79a8" stroke-width="1.1" stroke-dasharray="1.4 1.0"/>
<path d="M384.3 460.5H455.5V486.5H509.5" fill="none" stroke="#d8406a" stroke-width="1.0"/>
<path d="M384.3 460.5H455.5V467.5H509.5" fill="none" stroke="#4a79a8" stroke-width="1.0"/>
<line x1="509.5" y1="465.3" x2="509.5" y2="468.7" stroke="#4a79a8" stroke-width="0.7" />
<line x1="509.5" y1="485" x2="509.5" y2="488.3" stroke="#d8406a" stroke-width="0.7" />
<line x1="438.3" y1="459" x2="438.3" y2="462" stroke="#4a79a8" stroke-width="0.6" />
<line x1="383.2" y1="571.7" x2="392.4" y2="571.7" stroke="#4a79a8" stroke-width="0.9" stroke-dasharray="1.2 1.2"/>
<circle cx="387.6" cy="571.7" r="0.95" fill="#4a79a8" />
<text x="395.1" y="573.8" font-size="6.1" text-anchor="start" fill="#4a79a8" stroke="#4a79a8" stroke-width="0.16" textLength="100.4">high AR donor -&gt; Male recipient n = 8</text>
<line x1="383.2" y1="583.1" x2="392.4" y2="583.1" stroke="#4a79a8" stroke-width="1.1" />
<path d="M387.6 581.4L388.6 583.5L386.6 583.5Z" fill="#4a79a8"/>
<text x="395.1" y="585.2" font-size="6.1" text-anchor="start" fill="#4a79a8" stroke="#4a79a8" stroke-width="0.16" textLength="100.9">AR KD donor -&gt; Male recipient n = 12</text>
<line x1="383.2" y1="594.4" x2="392.4" y2="594.4" stroke="#d8406a" stroke-width="0.9" stroke-dasharray="1.2 1.2"/>
<circle cx="387.6" cy="594.4" r="0.95" fill="#d8406a" />
<text x="395.1" y="596.5" font-size="6.1" text-anchor="start" fill="#d8406a" stroke="#d8406a" stroke-width="0.16" textLength="106.2">high AR donor -&gt; Female recipient n = 5</text>
<line x1="383.2" y1="605.8" x2="392.4" y2="605.8" stroke="#d8406a" stroke-width="1.1" />
<path d="M387.6 604.1L388.6 606.2L386.6 606.2Z" fill="#d8406a"/>
<text x="395.1" y="607.9" font-size="6.1" text-anchor="start" fill="#d8406a" stroke="#d8406a" stroke-width="0.16" textLength="103.7">AR KD donor -&gt; Female recipient n = 8</text>
<path d="M497.4 571.6H501.4V583H497.4" fill="none" stroke="#333" stroke-width="1.2"/>
<text x="506" y="580.9" font-size="6.5" text-anchor="middle" fill="#222" font-weight="bold">**</text>
<path d="M503.2 594.2H506.6V606H503.2" fill="none" stroke="#333" stroke-width="1.2"/>
<text x="511.3" y="604" font-size="6.5" text-anchor="middle" fill="#222" font-weight="bold">**</text>
<rect x="0.5" y="0.5" width="519" height="615" fill="none" stroke="#4a4a4a" stroke-width="1"/>
</svg>
</body></html>
